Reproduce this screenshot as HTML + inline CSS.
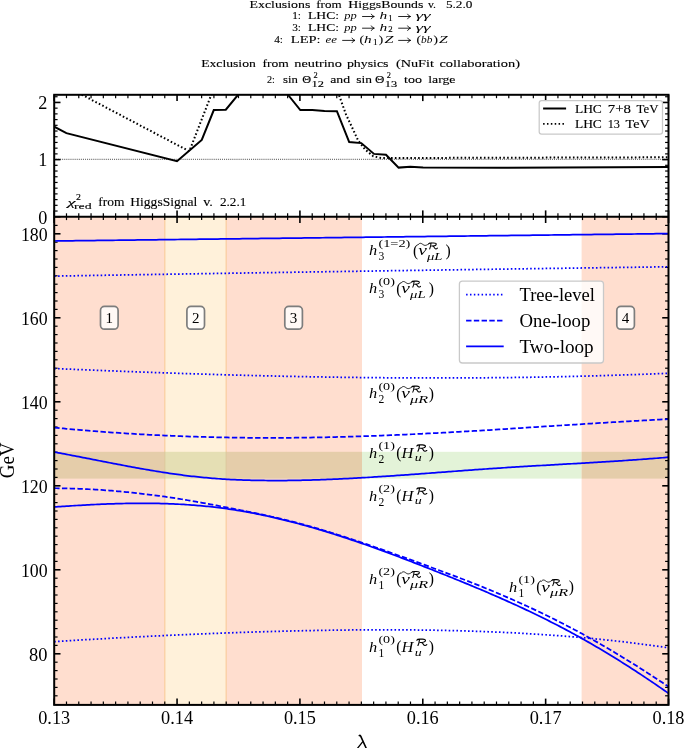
<!DOCTYPE html>
<html><head><meta charset="utf-8"><title>chart</title>
<style>
html,body{margin:0;padding:0;background:#fff;}
body{width:685px;height:748px;overflow:hidden;font-family:"Liberation Serif",serif;}
svg text{font-family:"Liberation Serif",serif;}
</style></head><body>
<svg width="685" height="748" viewBox="0 0 685 748" style="display:block;will-change:transform">
<defs>
<clipPath id="ct"><rect x="54.2" y="94.8" width="614.3" height="121.89999999999999"/></clipPath>
<clipPath id="cb"><rect x="54.2" y="216.7" width="614.3" height="488.2"/></clipPath>
<path id="calR" d="M0.3,-5.8 C0.8,-6.8 1.8,-6.9 3.0,-6.9 L5.6,-6.9 C8.0,-6.9 8.9,-5.9 8.4,-4.9 C7.8,-3.7 5.8,-3.3 3.6,-3.3 M2.9,-6.8 C2.7,-4.5 2.3,-2.0 1.4,-0.1 M4.6,-3.3 C5.8,-3.0 6.3,-2.0 6.8,-1.0 C7.3,0.0 8.6,0.3 9.8,-1.0" fill="none" stroke="#000" stroke-width="1.15" stroke-linecap="round" stroke-linejoin="round"/>
<path id="wtilde" d="M0,0.6 C1.0,-0.9 2.2,-1.3 3.4,-0.8 C4.8,-0.2 5.8,1.2 7.3,1.1 C8.9,1.0 10.2,0.0 11.2,-0.9" fill="none" stroke="#000" stroke-width="0.85" stroke-linecap="round"/>
</defs>
<rect width="685" height="748" fill="#fff"/>
<rect x="54.20" y="216.7" width="110.57" height="488.2" fill="#ffdecf"/>
<rect x="164.77" y="216.7" width="61.43" height="488.2" fill="#fff1da"/>
<rect x="226.20" y="216.7" width="135.80" height="488.2" fill="#ffdecf"/>
<rect x="581.6" y="216.7" width="86.90" height="488.2" fill="#ffdecf"/>
<rect x="164.07" y="216.7" width="1.4" height="488.2" fill="#f9cd9f" opacity="0.9"/>
<rect x="225.50" y="216.7" width="1.4" height="488.2" fill="#f9cd9f" opacity="0.9"/>
<rect x="54.20" y="451.8" width="110.57" height="26.8" fill="#e5cdaa"/>
<rect x="164.77" y="451.8" width="61.43" height="26.8" fill="#e5dfb4"/>
<rect x="226.20" y="451.8" width="135.80" height="26.8" fill="#e5cdaa"/>
<rect x="362.00" y="451.8" width="219.60" height="26.8" fill="#e3f3d8"/>
<rect x="581.60" y="451.8" width="86.90" height="26.8" fill="#e5cdaa"/>
<rect x="164.07" y="451.8" width="1.4" height="26.8" fill="#dcc79c" opacity="0.7"/>
<rect x="225.50" y="451.8" width="1.4" height="26.8" fill="#dcc79c" opacity="0.7"/>
<line x1="54.20" y1="94.80" x2="54.20" y2="101.10" stroke="#000" stroke-width="1.6"/>
<line x1="54.20" y1="216.70" x2="54.20" y2="210.40" stroke="#000" stroke-width="1.6"/>
<line x1="54.20" y1="216.70" x2="54.20" y2="223.00" stroke="#000" stroke-width="1.6"/>
<line x1="54.20" y1="704.90" x2="54.20" y2="698.60" stroke="#000" stroke-width="1.6"/>
<line x1="66.49" y1="94.80" x2="66.49" y2="98.20" stroke="#000" stroke-width="1.2"/>
<line x1="66.49" y1="216.70" x2="66.49" y2="213.30" stroke="#000" stroke-width="1.2"/>
<line x1="66.49" y1="216.70" x2="66.49" y2="220.10" stroke="#000" stroke-width="1.2"/>
<line x1="66.49" y1="704.90" x2="66.49" y2="701.50" stroke="#000" stroke-width="1.2"/>
<line x1="78.77" y1="94.80" x2="78.77" y2="98.20" stroke="#000" stroke-width="1.2"/>
<line x1="78.77" y1="216.70" x2="78.77" y2="213.30" stroke="#000" stroke-width="1.2"/>
<line x1="78.77" y1="216.70" x2="78.77" y2="220.10" stroke="#000" stroke-width="1.2"/>
<line x1="78.77" y1="704.90" x2="78.77" y2="701.50" stroke="#000" stroke-width="1.2"/>
<line x1="91.06" y1="94.80" x2="91.06" y2="98.20" stroke="#000" stroke-width="1.2"/>
<line x1="91.06" y1="216.70" x2="91.06" y2="213.30" stroke="#000" stroke-width="1.2"/>
<line x1="91.06" y1="216.70" x2="91.06" y2="220.10" stroke="#000" stroke-width="1.2"/>
<line x1="91.06" y1="704.90" x2="91.06" y2="701.50" stroke="#000" stroke-width="1.2"/>
<line x1="103.34" y1="94.80" x2="103.34" y2="98.20" stroke="#000" stroke-width="1.2"/>
<line x1="103.34" y1="216.70" x2="103.34" y2="213.30" stroke="#000" stroke-width="1.2"/>
<line x1="103.34" y1="216.70" x2="103.34" y2="220.10" stroke="#000" stroke-width="1.2"/>
<line x1="103.34" y1="704.90" x2="103.34" y2="701.50" stroke="#000" stroke-width="1.2"/>
<line x1="115.63" y1="94.80" x2="115.63" y2="98.20" stroke="#000" stroke-width="1.2"/>
<line x1="115.63" y1="216.70" x2="115.63" y2="213.30" stroke="#000" stroke-width="1.2"/>
<line x1="115.63" y1="216.70" x2="115.63" y2="220.10" stroke="#000" stroke-width="1.2"/>
<line x1="115.63" y1="704.90" x2="115.63" y2="701.50" stroke="#000" stroke-width="1.2"/>
<line x1="127.92" y1="94.80" x2="127.92" y2="98.20" stroke="#000" stroke-width="1.2"/>
<line x1="127.92" y1="216.70" x2="127.92" y2="213.30" stroke="#000" stroke-width="1.2"/>
<line x1="127.92" y1="216.70" x2="127.92" y2="220.10" stroke="#000" stroke-width="1.2"/>
<line x1="127.92" y1="704.90" x2="127.92" y2="701.50" stroke="#000" stroke-width="1.2"/>
<line x1="140.20" y1="94.80" x2="140.20" y2="98.20" stroke="#000" stroke-width="1.2"/>
<line x1="140.20" y1="216.70" x2="140.20" y2="213.30" stroke="#000" stroke-width="1.2"/>
<line x1="140.20" y1="216.70" x2="140.20" y2="220.10" stroke="#000" stroke-width="1.2"/>
<line x1="140.20" y1="704.90" x2="140.20" y2="701.50" stroke="#000" stroke-width="1.2"/>
<line x1="152.49" y1="94.80" x2="152.49" y2="98.20" stroke="#000" stroke-width="1.2"/>
<line x1="152.49" y1="216.70" x2="152.49" y2="213.30" stroke="#000" stroke-width="1.2"/>
<line x1="152.49" y1="216.70" x2="152.49" y2="220.10" stroke="#000" stroke-width="1.2"/>
<line x1="152.49" y1="704.90" x2="152.49" y2="701.50" stroke="#000" stroke-width="1.2"/>
<line x1="164.77" y1="94.80" x2="164.77" y2="98.20" stroke="#000" stroke-width="1.2"/>
<line x1="164.77" y1="216.70" x2="164.77" y2="213.30" stroke="#000" stroke-width="1.2"/>
<line x1="164.77" y1="216.70" x2="164.77" y2="220.10" stroke="#000" stroke-width="1.2"/>
<line x1="164.77" y1="704.90" x2="164.77" y2="701.50" stroke="#000" stroke-width="1.2"/>
<line x1="177.06" y1="94.80" x2="177.06" y2="101.10" stroke="#000" stroke-width="1.6"/>
<line x1="177.06" y1="216.70" x2="177.06" y2="210.40" stroke="#000" stroke-width="1.6"/>
<line x1="177.06" y1="216.70" x2="177.06" y2="223.00" stroke="#000" stroke-width="1.6"/>
<line x1="177.06" y1="704.90" x2="177.06" y2="698.60" stroke="#000" stroke-width="1.6"/>
<line x1="189.35" y1="94.80" x2="189.35" y2="98.20" stroke="#000" stroke-width="1.2"/>
<line x1="189.35" y1="216.70" x2="189.35" y2="213.30" stroke="#000" stroke-width="1.2"/>
<line x1="189.35" y1="216.70" x2="189.35" y2="220.10" stroke="#000" stroke-width="1.2"/>
<line x1="189.35" y1="704.90" x2="189.35" y2="701.50" stroke="#000" stroke-width="1.2"/>
<line x1="201.63" y1="94.80" x2="201.63" y2="98.20" stroke="#000" stroke-width="1.2"/>
<line x1="201.63" y1="216.70" x2="201.63" y2="213.30" stroke="#000" stroke-width="1.2"/>
<line x1="201.63" y1="216.70" x2="201.63" y2="220.10" stroke="#000" stroke-width="1.2"/>
<line x1="201.63" y1="704.90" x2="201.63" y2="701.50" stroke="#000" stroke-width="1.2"/>
<line x1="213.92" y1="94.80" x2="213.92" y2="98.20" stroke="#000" stroke-width="1.2"/>
<line x1="213.92" y1="216.70" x2="213.92" y2="213.30" stroke="#000" stroke-width="1.2"/>
<line x1="213.92" y1="216.70" x2="213.92" y2="220.10" stroke="#000" stroke-width="1.2"/>
<line x1="213.92" y1="704.90" x2="213.92" y2="701.50" stroke="#000" stroke-width="1.2"/>
<line x1="226.20" y1="94.80" x2="226.20" y2="98.20" stroke="#000" stroke-width="1.2"/>
<line x1="226.20" y1="216.70" x2="226.20" y2="213.30" stroke="#000" stroke-width="1.2"/>
<line x1="226.20" y1="216.70" x2="226.20" y2="220.10" stroke="#000" stroke-width="1.2"/>
<line x1="226.20" y1="704.90" x2="226.20" y2="701.50" stroke="#000" stroke-width="1.2"/>
<line x1="238.49" y1="94.80" x2="238.49" y2="98.20" stroke="#000" stroke-width="1.2"/>
<line x1="238.49" y1="216.70" x2="238.49" y2="213.30" stroke="#000" stroke-width="1.2"/>
<line x1="238.49" y1="216.70" x2="238.49" y2="220.10" stroke="#000" stroke-width="1.2"/>
<line x1="238.49" y1="704.90" x2="238.49" y2="701.50" stroke="#000" stroke-width="1.2"/>
<line x1="250.78" y1="94.80" x2="250.78" y2="98.20" stroke="#000" stroke-width="1.2"/>
<line x1="250.78" y1="216.70" x2="250.78" y2="213.30" stroke="#000" stroke-width="1.2"/>
<line x1="250.78" y1="216.70" x2="250.78" y2="220.10" stroke="#000" stroke-width="1.2"/>
<line x1="250.78" y1="704.90" x2="250.78" y2="701.50" stroke="#000" stroke-width="1.2"/>
<line x1="263.06" y1="94.80" x2="263.06" y2="98.20" stroke="#000" stroke-width="1.2"/>
<line x1="263.06" y1="216.70" x2="263.06" y2="213.30" stroke="#000" stroke-width="1.2"/>
<line x1="263.06" y1="216.70" x2="263.06" y2="220.10" stroke="#000" stroke-width="1.2"/>
<line x1="263.06" y1="704.90" x2="263.06" y2="701.50" stroke="#000" stroke-width="1.2"/>
<line x1="275.35" y1="94.80" x2="275.35" y2="98.20" stroke="#000" stroke-width="1.2"/>
<line x1="275.35" y1="216.70" x2="275.35" y2="213.30" stroke="#000" stroke-width="1.2"/>
<line x1="275.35" y1="216.70" x2="275.35" y2="220.10" stroke="#000" stroke-width="1.2"/>
<line x1="275.35" y1="704.90" x2="275.35" y2="701.50" stroke="#000" stroke-width="1.2"/>
<line x1="287.63" y1="94.80" x2="287.63" y2="98.20" stroke="#000" stroke-width="1.2"/>
<line x1="287.63" y1="216.70" x2="287.63" y2="213.30" stroke="#000" stroke-width="1.2"/>
<line x1="287.63" y1="216.70" x2="287.63" y2="220.10" stroke="#000" stroke-width="1.2"/>
<line x1="287.63" y1="704.90" x2="287.63" y2="701.50" stroke="#000" stroke-width="1.2"/>
<line x1="299.92" y1="94.80" x2="299.92" y2="101.10" stroke="#000" stroke-width="1.6"/>
<line x1="299.92" y1="216.70" x2="299.92" y2="210.40" stroke="#000" stroke-width="1.6"/>
<line x1="299.92" y1="216.70" x2="299.92" y2="223.00" stroke="#000" stroke-width="1.6"/>
<line x1="299.92" y1="704.90" x2="299.92" y2="698.60" stroke="#000" stroke-width="1.6"/>
<line x1="312.21" y1="94.80" x2="312.21" y2="98.20" stroke="#000" stroke-width="1.2"/>
<line x1="312.21" y1="216.70" x2="312.21" y2="213.30" stroke="#000" stroke-width="1.2"/>
<line x1="312.21" y1="216.70" x2="312.21" y2="220.10" stroke="#000" stroke-width="1.2"/>
<line x1="312.21" y1="704.90" x2="312.21" y2="701.50" stroke="#000" stroke-width="1.2"/>
<line x1="324.49" y1="94.80" x2="324.49" y2="98.20" stroke="#000" stroke-width="1.2"/>
<line x1="324.49" y1="216.70" x2="324.49" y2="213.30" stroke="#000" stroke-width="1.2"/>
<line x1="324.49" y1="216.70" x2="324.49" y2="220.10" stroke="#000" stroke-width="1.2"/>
<line x1="324.49" y1="704.90" x2="324.49" y2="701.50" stroke="#000" stroke-width="1.2"/>
<line x1="336.78" y1="94.80" x2="336.78" y2="98.20" stroke="#000" stroke-width="1.2"/>
<line x1="336.78" y1="216.70" x2="336.78" y2="213.30" stroke="#000" stroke-width="1.2"/>
<line x1="336.78" y1="216.70" x2="336.78" y2="220.10" stroke="#000" stroke-width="1.2"/>
<line x1="336.78" y1="704.90" x2="336.78" y2="701.50" stroke="#000" stroke-width="1.2"/>
<line x1="349.06" y1="94.80" x2="349.06" y2="98.20" stroke="#000" stroke-width="1.2"/>
<line x1="349.06" y1="216.70" x2="349.06" y2="213.30" stroke="#000" stroke-width="1.2"/>
<line x1="349.06" y1="216.70" x2="349.06" y2="220.10" stroke="#000" stroke-width="1.2"/>
<line x1="349.06" y1="704.90" x2="349.06" y2="701.50" stroke="#000" stroke-width="1.2"/>
<line x1="361.35" y1="94.80" x2="361.35" y2="98.20" stroke="#000" stroke-width="1.2"/>
<line x1="361.35" y1="216.70" x2="361.35" y2="213.30" stroke="#000" stroke-width="1.2"/>
<line x1="361.35" y1="216.70" x2="361.35" y2="220.10" stroke="#000" stroke-width="1.2"/>
<line x1="361.35" y1="704.90" x2="361.35" y2="701.50" stroke="#000" stroke-width="1.2"/>
<line x1="373.64" y1="94.80" x2="373.64" y2="98.20" stroke="#000" stroke-width="1.2"/>
<line x1="373.64" y1="216.70" x2="373.64" y2="213.30" stroke="#000" stroke-width="1.2"/>
<line x1="373.64" y1="216.70" x2="373.64" y2="220.10" stroke="#000" stroke-width="1.2"/>
<line x1="373.64" y1="704.90" x2="373.64" y2="701.50" stroke="#000" stroke-width="1.2"/>
<line x1="385.92" y1="94.80" x2="385.92" y2="98.20" stroke="#000" stroke-width="1.2"/>
<line x1="385.92" y1="216.70" x2="385.92" y2="213.30" stroke="#000" stroke-width="1.2"/>
<line x1="385.92" y1="216.70" x2="385.92" y2="220.10" stroke="#000" stroke-width="1.2"/>
<line x1="385.92" y1="704.90" x2="385.92" y2="701.50" stroke="#000" stroke-width="1.2"/>
<line x1="398.21" y1="94.80" x2="398.21" y2="98.20" stroke="#000" stroke-width="1.2"/>
<line x1="398.21" y1="216.70" x2="398.21" y2="213.30" stroke="#000" stroke-width="1.2"/>
<line x1="398.21" y1="216.70" x2="398.21" y2="220.10" stroke="#000" stroke-width="1.2"/>
<line x1="398.21" y1="704.90" x2="398.21" y2="701.50" stroke="#000" stroke-width="1.2"/>
<line x1="410.49" y1="94.80" x2="410.49" y2="98.20" stroke="#000" stroke-width="1.2"/>
<line x1="410.49" y1="216.70" x2="410.49" y2="213.30" stroke="#000" stroke-width="1.2"/>
<line x1="410.49" y1="216.70" x2="410.49" y2="220.10" stroke="#000" stroke-width="1.2"/>
<line x1="410.49" y1="704.90" x2="410.49" y2="701.50" stroke="#000" stroke-width="1.2"/>
<line x1="422.78" y1="94.80" x2="422.78" y2="101.10" stroke="#000" stroke-width="1.6"/>
<line x1="422.78" y1="216.70" x2="422.78" y2="210.40" stroke="#000" stroke-width="1.6"/>
<line x1="422.78" y1="216.70" x2="422.78" y2="223.00" stroke="#000" stroke-width="1.6"/>
<line x1="422.78" y1="704.90" x2="422.78" y2="698.60" stroke="#000" stroke-width="1.6"/>
<line x1="435.07" y1="94.80" x2="435.07" y2="98.20" stroke="#000" stroke-width="1.2"/>
<line x1="435.07" y1="216.70" x2="435.07" y2="213.30" stroke="#000" stroke-width="1.2"/>
<line x1="435.07" y1="216.70" x2="435.07" y2="220.10" stroke="#000" stroke-width="1.2"/>
<line x1="435.07" y1="704.90" x2="435.07" y2="701.50" stroke="#000" stroke-width="1.2"/>
<line x1="447.35" y1="94.80" x2="447.35" y2="98.20" stroke="#000" stroke-width="1.2"/>
<line x1="447.35" y1="216.70" x2="447.35" y2="213.30" stroke="#000" stroke-width="1.2"/>
<line x1="447.35" y1="216.70" x2="447.35" y2="220.10" stroke="#000" stroke-width="1.2"/>
<line x1="447.35" y1="704.90" x2="447.35" y2="701.50" stroke="#000" stroke-width="1.2"/>
<line x1="459.64" y1="94.80" x2="459.64" y2="98.20" stroke="#000" stroke-width="1.2"/>
<line x1="459.64" y1="216.70" x2="459.64" y2="213.30" stroke="#000" stroke-width="1.2"/>
<line x1="459.64" y1="216.70" x2="459.64" y2="220.10" stroke="#000" stroke-width="1.2"/>
<line x1="459.64" y1="704.90" x2="459.64" y2="701.50" stroke="#000" stroke-width="1.2"/>
<line x1="471.92" y1="94.80" x2="471.92" y2="98.20" stroke="#000" stroke-width="1.2"/>
<line x1="471.92" y1="216.70" x2="471.92" y2="213.30" stroke="#000" stroke-width="1.2"/>
<line x1="471.92" y1="216.70" x2="471.92" y2="220.10" stroke="#000" stroke-width="1.2"/>
<line x1="471.92" y1="704.90" x2="471.92" y2="701.50" stroke="#000" stroke-width="1.2"/>
<line x1="484.21" y1="94.80" x2="484.21" y2="98.20" stroke="#000" stroke-width="1.2"/>
<line x1="484.21" y1="216.70" x2="484.21" y2="213.30" stroke="#000" stroke-width="1.2"/>
<line x1="484.21" y1="216.70" x2="484.21" y2="220.10" stroke="#000" stroke-width="1.2"/>
<line x1="484.21" y1="704.90" x2="484.21" y2="701.50" stroke="#000" stroke-width="1.2"/>
<line x1="496.50" y1="94.80" x2="496.50" y2="98.20" stroke="#000" stroke-width="1.2"/>
<line x1="496.50" y1="216.70" x2="496.50" y2="213.30" stroke="#000" stroke-width="1.2"/>
<line x1="496.50" y1="216.70" x2="496.50" y2="220.10" stroke="#000" stroke-width="1.2"/>
<line x1="496.50" y1="704.90" x2="496.50" y2="701.50" stroke="#000" stroke-width="1.2"/>
<line x1="508.78" y1="94.80" x2="508.78" y2="98.20" stroke="#000" stroke-width="1.2"/>
<line x1="508.78" y1="216.70" x2="508.78" y2="213.30" stroke="#000" stroke-width="1.2"/>
<line x1="508.78" y1="216.70" x2="508.78" y2="220.10" stroke="#000" stroke-width="1.2"/>
<line x1="508.78" y1="704.90" x2="508.78" y2="701.50" stroke="#000" stroke-width="1.2"/>
<line x1="521.07" y1="94.80" x2="521.07" y2="98.20" stroke="#000" stroke-width="1.2"/>
<line x1="521.07" y1="216.70" x2="521.07" y2="213.30" stroke="#000" stroke-width="1.2"/>
<line x1="521.07" y1="216.70" x2="521.07" y2="220.10" stroke="#000" stroke-width="1.2"/>
<line x1="521.07" y1="704.90" x2="521.07" y2="701.50" stroke="#000" stroke-width="1.2"/>
<line x1="533.35" y1="94.80" x2="533.35" y2="98.20" stroke="#000" stroke-width="1.2"/>
<line x1="533.35" y1="216.70" x2="533.35" y2="213.30" stroke="#000" stroke-width="1.2"/>
<line x1="533.35" y1="216.70" x2="533.35" y2="220.10" stroke="#000" stroke-width="1.2"/>
<line x1="533.35" y1="704.90" x2="533.35" y2="701.50" stroke="#000" stroke-width="1.2"/>
<line x1="545.64" y1="94.80" x2="545.64" y2="101.10" stroke="#000" stroke-width="1.6"/>
<line x1="545.64" y1="216.70" x2="545.64" y2="210.40" stroke="#000" stroke-width="1.6"/>
<line x1="545.64" y1="216.70" x2="545.64" y2="223.00" stroke="#000" stroke-width="1.6"/>
<line x1="545.64" y1="704.90" x2="545.64" y2="698.60" stroke="#000" stroke-width="1.6"/>
<line x1="557.93" y1="94.80" x2="557.93" y2="98.20" stroke="#000" stroke-width="1.2"/>
<line x1="557.93" y1="216.70" x2="557.93" y2="213.30" stroke="#000" stroke-width="1.2"/>
<line x1="557.93" y1="216.70" x2="557.93" y2="220.10" stroke="#000" stroke-width="1.2"/>
<line x1="557.93" y1="704.90" x2="557.93" y2="701.50" stroke="#000" stroke-width="1.2"/>
<line x1="570.21" y1="94.80" x2="570.21" y2="98.20" stroke="#000" stroke-width="1.2"/>
<line x1="570.21" y1="216.70" x2="570.21" y2="213.30" stroke="#000" stroke-width="1.2"/>
<line x1="570.21" y1="216.70" x2="570.21" y2="220.10" stroke="#000" stroke-width="1.2"/>
<line x1="570.21" y1="704.90" x2="570.21" y2="701.50" stroke="#000" stroke-width="1.2"/>
<line x1="582.50" y1="94.80" x2="582.50" y2="98.20" stroke="#000" stroke-width="1.2"/>
<line x1="582.50" y1="216.70" x2="582.50" y2="213.30" stroke="#000" stroke-width="1.2"/>
<line x1="582.50" y1="216.70" x2="582.50" y2="220.10" stroke="#000" stroke-width="1.2"/>
<line x1="582.50" y1="704.90" x2="582.50" y2="701.50" stroke="#000" stroke-width="1.2"/>
<line x1="594.78" y1="94.80" x2="594.78" y2="98.20" stroke="#000" stroke-width="1.2"/>
<line x1="594.78" y1="216.70" x2="594.78" y2="213.30" stroke="#000" stroke-width="1.2"/>
<line x1="594.78" y1="216.70" x2="594.78" y2="220.10" stroke="#000" stroke-width="1.2"/>
<line x1="594.78" y1="704.90" x2="594.78" y2="701.50" stroke="#000" stroke-width="1.2"/>
<line x1="607.07" y1="94.80" x2="607.07" y2="98.20" stroke="#000" stroke-width="1.2"/>
<line x1="607.07" y1="216.70" x2="607.07" y2="213.30" stroke="#000" stroke-width="1.2"/>
<line x1="607.07" y1="216.70" x2="607.07" y2="220.10" stroke="#000" stroke-width="1.2"/>
<line x1="607.07" y1="704.90" x2="607.07" y2="701.50" stroke="#000" stroke-width="1.2"/>
<line x1="619.36" y1="94.80" x2="619.36" y2="98.20" stroke="#000" stroke-width="1.2"/>
<line x1="619.36" y1="216.70" x2="619.36" y2="213.30" stroke="#000" stroke-width="1.2"/>
<line x1="619.36" y1="216.70" x2="619.36" y2="220.10" stroke="#000" stroke-width="1.2"/>
<line x1="619.36" y1="704.90" x2="619.36" y2="701.50" stroke="#000" stroke-width="1.2"/>
<line x1="631.64" y1="94.80" x2="631.64" y2="98.20" stroke="#000" stroke-width="1.2"/>
<line x1="631.64" y1="216.70" x2="631.64" y2="213.30" stroke="#000" stroke-width="1.2"/>
<line x1="631.64" y1="216.70" x2="631.64" y2="220.10" stroke="#000" stroke-width="1.2"/>
<line x1="631.64" y1="704.90" x2="631.64" y2="701.50" stroke="#000" stroke-width="1.2"/>
<line x1="643.93" y1="94.80" x2="643.93" y2="98.20" stroke="#000" stroke-width="1.2"/>
<line x1="643.93" y1="216.70" x2="643.93" y2="213.30" stroke="#000" stroke-width="1.2"/>
<line x1="643.93" y1="216.70" x2="643.93" y2="220.10" stroke="#000" stroke-width="1.2"/>
<line x1="643.93" y1="704.90" x2="643.93" y2="701.50" stroke="#000" stroke-width="1.2"/>
<line x1="656.21" y1="94.80" x2="656.21" y2="98.20" stroke="#000" stroke-width="1.2"/>
<line x1="656.21" y1="216.70" x2="656.21" y2="213.30" stroke="#000" stroke-width="1.2"/>
<line x1="656.21" y1="216.70" x2="656.21" y2="220.10" stroke="#000" stroke-width="1.2"/>
<line x1="656.21" y1="704.90" x2="656.21" y2="701.50" stroke="#000" stroke-width="1.2"/>
<line x1="668.50" y1="94.80" x2="668.50" y2="101.10" stroke="#000" stroke-width="1.6"/>
<line x1="668.50" y1="216.70" x2="668.50" y2="210.40" stroke="#000" stroke-width="1.6"/>
<line x1="668.50" y1="216.70" x2="668.50" y2="223.00" stroke="#000" stroke-width="1.6"/>
<line x1="668.50" y1="704.90" x2="668.50" y2="698.60" stroke="#000" stroke-width="1.6"/>
<line x1="54.20" y1="216.75" x2="60.50" y2="216.75" stroke="#000" stroke-width="1.6"/>
<line x1="668.50" y1="216.75" x2="662.20" y2="216.75" stroke="#000" stroke-width="1.6"/>
<line x1="54.20" y1="211.03" x2="57.60" y2="211.03" stroke="#000" stroke-width="1.2"/>
<line x1="668.50" y1="211.03" x2="665.10" y2="211.03" stroke="#000" stroke-width="1.2"/>
<line x1="54.20" y1="205.32" x2="57.60" y2="205.32" stroke="#000" stroke-width="1.2"/>
<line x1="668.50" y1="205.32" x2="665.10" y2="205.32" stroke="#000" stroke-width="1.2"/>
<line x1="54.20" y1="199.60" x2="57.60" y2="199.60" stroke="#000" stroke-width="1.2"/>
<line x1="668.50" y1="199.60" x2="665.10" y2="199.60" stroke="#000" stroke-width="1.2"/>
<line x1="54.20" y1="193.89" x2="57.60" y2="193.89" stroke="#000" stroke-width="1.2"/>
<line x1="668.50" y1="193.89" x2="665.10" y2="193.89" stroke="#000" stroke-width="1.2"/>
<line x1="54.20" y1="188.18" x2="57.60" y2="188.18" stroke="#000" stroke-width="1.2"/>
<line x1="668.50" y1="188.18" x2="665.10" y2="188.18" stroke="#000" stroke-width="1.2"/>
<line x1="54.20" y1="182.46" x2="57.60" y2="182.46" stroke="#000" stroke-width="1.2"/>
<line x1="668.50" y1="182.46" x2="665.10" y2="182.46" stroke="#000" stroke-width="1.2"/>
<line x1="54.20" y1="176.75" x2="57.60" y2="176.75" stroke="#000" stroke-width="1.2"/>
<line x1="668.50" y1="176.75" x2="665.10" y2="176.75" stroke="#000" stroke-width="1.2"/>
<line x1="54.20" y1="171.03" x2="57.60" y2="171.03" stroke="#000" stroke-width="1.2"/>
<line x1="668.50" y1="171.03" x2="665.10" y2="171.03" stroke="#000" stroke-width="1.2"/>
<line x1="54.20" y1="165.31" x2="57.60" y2="165.31" stroke="#000" stroke-width="1.2"/>
<line x1="668.50" y1="165.31" x2="665.10" y2="165.31" stroke="#000" stroke-width="1.2"/>
<line x1="54.20" y1="159.60" x2="60.50" y2="159.60" stroke="#000" stroke-width="1.6"/>
<line x1="668.50" y1="159.60" x2="662.20" y2="159.60" stroke="#000" stroke-width="1.6"/>
<line x1="54.20" y1="153.88" x2="57.60" y2="153.88" stroke="#000" stroke-width="1.2"/>
<line x1="668.50" y1="153.88" x2="665.10" y2="153.88" stroke="#000" stroke-width="1.2"/>
<line x1="54.20" y1="148.17" x2="57.60" y2="148.17" stroke="#000" stroke-width="1.2"/>
<line x1="668.50" y1="148.17" x2="665.10" y2="148.17" stroke="#000" stroke-width="1.2"/>
<line x1="54.20" y1="142.45" x2="57.60" y2="142.45" stroke="#000" stroke-width="1.2"/>
<line x1="668.50" y1="142.45" x2="665.10" y2="142.45" stroke="#000" stroke-width="1.2"/>
<line x1="54.20" y1="136.74" x2="57.60" y2="136.74" stroke="#000" stroke-width="1.2"/>
<line x1="668.50" y1="136.74" x2="665.10" y2="136.74" stroke="#000" stroke-width="1.2"/>
<line x1="54.20" y1="131.03" x2="57.60" y2="131.03" stroke="#000" stroke-width="1.2"/>
<line x1="668.50" y1="131.03" x2="665.10" y2="131.03" stroke="#000" stroke-width="1.2"/>
<line x1="54.20" y1="125.31" x2="57.60" y2="125.31" stroke="#000" stroke-width="1.2"/>
<line x1="668.50" y1="125.31" x2="665.10" y2="125.31" stroke="#000" stroke-width="1.2"/>
<line x1="54.20" y1="119.59" x2="57.60" y2="119.59" stroke="#000" stroke-width="1.2"/>
<line x1="668.50" y1="119.59" x2="665.10" y2="119.59" stroke="#000" stroke-width="1.2"/>
<line x1="54.20" y1="113.88" x2="57.60" y2="113.88" stroke="#000" stroke-width="1.2"/>
<line x1="668.50" y1="113.88" x2="665.10" y2="113.88" stroke="#000" stroke-width="1.2"/>
<line x1="54.20" y1="108.16" x2="57.60" y2="108.16" stroke="#000" stroke-width="1.2"/>
<line x1="668.50" y1="108.16" x2="665.10" y2="108.16" stroke="#000" stroke-width="1.2"/>
<line x1="54.20" y1="102.45" x2="60.50" y2="102.45" stroke="#000" stroke-width="1.6"/>
<line x1="668.50" y1="102.45" x2="662.20" y2="102.45" stroke="#000" stroke-width="1.6"/>
<line x1="54.20" y1="96.73" x2="57.60" y2="96.73" stroke="#000" stroke-width="1.2"/>
<line x1="668.50" y1="96.73" x2="665.10" y2="96.73" stroke="#000" stroke-width="1.2"/>
<line x1="54.20" y1="695.80" x2="57.60" y2="695.80" stroke="#000" stroke-width="1.2"/>
<line x1="668.50" y1="695.80" x2="665.10" y2="695.80" stroke="#000" stroke-width="1.2"/>
<line x1="54.20" y1="687.40" x2="57.60" y2="687.40" stroke="#000" stroke-width="1.2"/>
<line x1="668.50" y1="687.40" x2="665.10" y2="687.40" stroke="#000" stroke-width="1.2"/>
<line x1="54.20" y1="679.00" x2="57.60" y2="679.00" stroke="#000" stroke-width="1.2"/>
<line x1="668.50" y1="679.00" x2="665.10" y2="679.00" stroke="#000" stroke-width="1.2"/>
<line x1="54.20" y1="670.60" x2="57.60" y2="670.60" stroke="#000" stroke-width="1.2"/>
<line x1="668.50" y1="670.60" x2="665.10" y2="670.60" stroke="#000" stroke-width="1.2"/>
<line x1="54.20" y1="662.20" x2="57.60" y2="662.20" stroke="#000" stroke-width="1.2"/>
<line x1="668.50" y1="662.20" x2="665.10" y2="662.20" stroke="#000" stroke-width="1.2"/>
<line x1="54.20" y1="653.80" x2="60.50" y2="653.80" stroke="#000" stroke-width="1.6"/>
<line x1="668.50" y1="653.80" x2="662.20" y2="653.80" stroke="#000" stroke-width="1.6"/>
<line x1="54.20" y1="645.40" x2="57.60" y2="645.40" stroke="#000" stroke-width="1.2"/>
<line x1="668.50" y1="645.40" x2="665.10" y2="645.40" stroke="#000" stroke-width="1.2"/>
<line x1="54.20" y1="637.00" x2="57.60" y2="637.00" stroke="#000" stroke-width="1.2"/>
<line x1="668.50" y1="637.00" x2="665.10" y2="637.00" stroke="#000" stroke-width="1.2"/>
<line x1="54.20" y1="628.60" x2="57.60" y2="628.60" stroke="#000" stroke-width="1.2"/>
<line x1="668.50" y1="628.60" x2="665.10" y2="628.60" stroke="#000" stroke-width="1.2"/>
<line x1="54.20" y1="620.20" x2="57.60" y2="620.20" stroke="#000" stroke-width="1.2"/>
<line x1="668.50" y1="620.20" x2="665.10" y2="620.20" stroke="#000" stroke-width="1.2"/>
<line x1="54.20" y1="611.80" x2="57.60" y2="611.80" stroke="#000" stroke-width="1.2"/>
<line x1="668.50" y1="611.80" x2="665.10" y2="611.80" stroke="#000" stroke-width="1.2"/>
<line x1="54.20" y1="603.40" x2="57.60" y2="603.40" stroke="#000" stroke-width="1.2"/>
<line x1="668.50" y1="603.40" x2="665.10" y2="603.40" stroke="#000" stroke-width="1.2"/>
<line x1="54.20" y1="595.00" x2="57.60" y2="595.00" stroke="#000" stroke-width="1.2"/>
<line x1="668.50" y1="595.00" x2="665.10" y2="595.00" stroke="#000" stroke-width="1.2"/>
<line x1="54.20" y1="586.60" x2="57.60" y2="586.60" stroke="#000" stroke-width="1.2"/>
<line x1="668.50" y1="586.60" x2="665.10" y2="586.60" stroke="#000" stroke-width="1.2"/>
<line x1="54.20" y1="578.20" x2="57.60" y2="578.20" stroke="#000" stroke-width="1.2"/>
<line x1="668.50" y1="578.20" x2="665.10" y2="578.20" stroke="#000" stroke-width="1.2"/>
<line x1="54.20" y1="569.80" x2="60.50" y2="569.80" stroke="#000" stroke-width="1.6"/>
<line x1="668.50" y1="569.80" x2="662.20" y2="569.80" stroke="#000" stroke-width="1.6"/>
<line x1="54.20" y1="561.40" x2="57.60" y2="561.40" stroke="#000" stroke-width="1.2"/>
<line x1="668.50" y1="561.40" x2="665.10" y2="561.40" stroke="#000" stroke-width="1.2"/>
<line x1="54.20" y1="553.00" x2="57.60" y2="553.00" stroke="#000" stroke-width="1.2"/>
<line x1="668.50" y1="553.00" x2="665.10" y2="553.00" stroke="#000" stroke-width="1.2"/>
<line x1="54.20" y1="544.60" x2="57.60" y2="544.60" stroke="#000" stroke-width="1.2"/>
<line x1="668.50" y1="544.60" x2="665.10" y2="544.60" stroke="#000" stroke-width="1.2"/>
<line x1="54.20" y1="536.20" x2="57.60" y2="536.20" stroke="#000" stroke-width="1.2"/>
<line x1="668.50" y1="536.20" x2="665.10" y2="536.20" stroke="#000" stroke-width="1.2"/>
<line x1="54.20" y1="527.80" x2="57.60" y2="527.80" stroke="#000" stroke-width="1.2"/>
<line x1="668.50" y1="527.80" x2="665.10" y2="527.80" stroke="#000" stroke-width="1.2"/>
<line x1="54.20" y1="519.40" x2="57.60" y2="519.40" stroke="#000" stroke-width="1.2"/>
<line x1="668.50" y1="519.40" x2="665.10" y2="519.40" stroke="#000" stroke-width="1.2"/>
<line x1="54.20" y1="511.00" x2="57.60" y2="511.00" stroke="#000" stroke-width="1.2"/>
<line x1="668.50" y1="511.00" x2="665.10" y2="511.00" stroke="#000" stroke-width="1.2"/>
<line x1="54.20" y1="502.60" x2="57.60" y2="502.60" stroke="#000" stroke-width="1.2"/>
<line x1="668.50" y1="502.60" x2="665.10" y2="502.60" stroke="#000" stroke-width="1.2"/>
<line x1="54.20" y1="494.20" x2="57.60" y2="494.20" stroke="#000" stroke-width="1.2"/>
<line x1="668.50" y1="494.20" x2="665.10" y2="494.20" stroke="#000" stroke-width="1.2"/>
<line x1="54.20" y1="485.80" x2="60.50" y2="485.80" stroke="#000" stroke-width="1.6"/>
<line x1="668.50" y1="485.80" x2="662.20" y2="485.80" stroke="#000" stroke-width="1.6"/>
<line x1="54.20" y1="477.40" x2="57.60" y2="477.40" stroke="#000" stroke-width="1.2"/>
<line x1="668.50" y1="477.40" x2="665.10" y2="477.40" stroke="#000" stroke-width="1.2"/>
<line x1="54.20" y1="469.00" x2="57.60" y2="469.00" stroke="#000" stroke-width="1.2"/>
<line x1="668.50" y1="469.00" x2="665.10" y2="469.00" stroke="#000" stroke-width="1.2"/>
<line x1="54.20" y1="460.60" x2="57.60" y2="460.60" stroke="#000" stroke-width="1.2"/>
<line x1="668.50" y1="460.60" x2="665.10" y2="460.60" stroke="#000" stroke-width="1.2"/>
<line x1="54.20" y1="452.20" x2="57.60" y2="452.20" stroke="#000" stroke-width="1.2"/>
<line x1="668.50" y1="452.20" x2="665.10" y2="452.20" stroke="#000" stroke-width="1.2"/>
<line x1="54.20" y1="443.80" x2="57.60" y2="443.80" stroke="#000" stroke-width="1.2"/>
<line x1="668.50" y1="443.80" x2="665.10" y2="443.80" stroke="#000" stroke-width="1.2"/>
<line x1="54.20" y1="435.40" x2="57.60" y2="435.40" stroke="#000" stroke-width="1.2"/>
<line x1="668.50" y1="435.40" x2="665.10" y2="435.40" stroke="#000" stroke-width="1.2"/>
<line x1="54.20" y1="427.00" x2="57.60" y2="427.00" stroke="#000" stroke-width="1.2"/>
<line x1="668.50" y1="427.00" x2="665.10" y2="427.00" stroke="#000" stroke-width="1.2"/>
<line x1="54.20" y1="418.60" x2="57.60" y2="418.60" stroke="#000" stroke-width="1.2"/>
<line x1="668.50" y1="418.60" x2="665.10" y2="418.60" stroke="#000" stroke-width="1.2"/>
<line x1="54.20" y1="410.20" x2="57.60" y2="410.20" stroke="#000" stroke-width="1.2"/>
<line x1="668.50" y1="410.20" x2="665.10" y2="410.20" stroke="#000" stroke-width="1.2"/>
<line x1="54.20" y1="401.80" x2="60.50" y2="401.80" stroke="#000" stroke-width="1.6"/>
<line x1="668.50" y1="401.80" x2="662.20" y2="401.80" stroke="#000" stroke-width="1.6"/>
<line x1="54.20" y1="393.40" x2="57.60" y2="393.40" stroke="#000" stroke-width="1.2"/>
<line x1="668.50" y1="393.40" x2="665.10" y2="393.40" stroke="#000" stroke-width="1.2"/>
<line x1="54.20" y1="385.00" x2="57.60" y2="385.00" stroke="#000" stroke-width="1.2"/>
<line x1="668.50" y1="385.00" x2="665.10" y2="385.00" stroke="#000" stroke-width="1.2"/>
<line x1="54.20" y1="376.60" x2="57.60" y2="376.60" stroke="#000" stroke-width="1.2"/>
<line x1="668.50" y1="376.60" x2="665.10" y2="376.60" stroke="#000" stroke-width="1.2"/>
<line x1="54.20" y1="368.20" x2="57.60" y2="368.20" stroke="#000" stroke-width="1.2"/>
<line x1="668.50" y1="368.20" x2="665.10" y2="368.20" stroke="#000" stroke-width="1.2"/>
<line x1="54.20" y1="359.80" x2="57.60" y2="359.80" stroke="#000" stroke-width="1.2"/>
<line x1="668.50" y1="359.80" x2="665.10" y2="359.80" stroke="#000" stroke-width="1.2"/>
<line x1="54.20" y1="351.40" x2="57.60" y2="351.40" stroke="#000" stroke-width="1.2"/>
<line x1="668.50" y1="351.40" x2="665.10" y2="351.40" stroke="#000" stroke-width="1.2"/>
<line x1="54.20" y1="343.00" x2="57.60" y2="343.00" stroke="#000" stroke-width="1.2"/>
<line x1="668.50" y1="343.00" x2="665.10" y2="343.00" stroke="#000" stroke-width="1.2"/>
<line x1="54.20" y1="334.60" x2="57.60" y2="334.60" stroke="#000" stroke-width="1.2"/>
<line x1="668.50" y1="334.60" x2="665.10" y2="334.60" stroke="#000" stroke-width="1.2"/>
<line x1="54.20" y1="326.20" x2="57.60" y2="326.20" stroke="#000" stroke-width="1.2"/>
<line x1="668.50" y1="326.20" x2="665.10" y2="326.20" stroke="#000" stroke-width="1.2"/>
<line x1="54.20" y1="317.80" x2="60.50" y2="317.80" stroke="#000" stroke-width="1.6"/>
<line x1="668.50" y1="317.80" x2="662.20" y2="317.80" stroke="#000" stroke-width="1.6"/>
<line x1="54.20" y1="309.40" x2="57.60" y2="309.40" stroke="#000" stroke-width="1.2"/>
<line x1="668.50" y1="309.40" x2="665.10" y2="309.40" stroke="#000" stroke-width="1.2"/>
<line x1="54.20" y1="301.00" x2="57.60" y2="301.00" stroke="#000" stroke-width="1.2"/>
<line x1="668.50" y1="301.00" x2="665.10" y2="301.00" stroke="#000" stroke-width="1.2"/>
<line x1="54.20" y1="292.60" x2="57.60" y2="292.60" stroke="#000" stroke-width="1.2"/>
<line x1="668.50" y1="292.60" x2="665.10" y2="292.60" stroke="#000" stroke-width="1.2"/>
<line x1="54.20" y1="284.20" x2="57.60" y2="284.20" stroke="#000" stroke-width="1.2"/>
<line x1="668.50" y1="284.20" x2="665.10" y2="284.20" stroke="#000" stroke-width="1.2"/>
<line x1="54.20" y1="275.80" x2="57.60" y2="275.80" stroke="#000" stroke-width="1.2"/>
<line x1="668.50" y1="275.80" x2="665.10" y2="275.80" stroke="#000" stroke-width="1.2"/>
<line x1="54.20" y1="267.40" x2="57.60" y2="267.40" stroke="#000" stroke-width="1.2"/>
<line x1="668.50" y1="267.40" x2="665.10" y2="267.40" stroke="#000" stroke-width="1.2"/>
<line x1="54.20" y1="259.00" x2="57.60" y2="259.00" stroke="#000" stroke-width="1.2"/>
<line x1="668.50" y1="259.00" x2="665.10" y2="259.00" stroke="#000" stroke-width="1.2"/>
<line x1="54.20" y1="250.60" x2="57.60" y2="250.60" stroke="#000" stroke-width="1.2"/>
<line x1="668.50" y1="250.60" x2="665.10" y2="250.60" stroke="#000" stroke-width="1.2"/>
<line x1="54.20" y1="242.20" x2="57.60" y2="242.20" stroke="#000" stroke-width="1.2"/>
<line x1="668.50" y1="242.20" x2="665.10" y2="242.20" stroke="#000" stroke-width="1.2"/>
<line x1="54.20" y1="233.80" x2="60.50" y2="233.80" stroke="#000" stroke-width="1.6"/>
<line x1="668.50" y1="233.80" x2="662.20" y2="233.80" stroke="#000" stroke-width="1.6"/>
<line x1="54.20" y1="225.40" x2="57.60" y2="225.40" stroke="#000" stroke-width="1.2"/>
<line x1="668.50" y1="225.40" x2="665.10" y2="225.40" stroke="#000" stroke-width="1.2"/>
<polyline points="54.20,276.10 57.29,276.04 60.37,275.99 63.46,275.94 66.55,275.89 69.63,275.84 72.72,275.79 75.81,275.74 78.90,275.68 81.98,275.63 85.07,275.58 88.16,275.53 91.24,275.48 94.33,275.43 97.42,275.38 100.50,275.33 103.59,275.27 106.68,275.22 109.76,275.17 112.85,275.12 115.94,275.07 119.03,275.02 122.11,274.97 125.20,274.92 128.29,274.87 131.37,274.82 134.46,274.77 137.55,274.72 140.63,274.67 143.72,274.62 146.81,274.57 149.89,274.52 152.98,274.47 156.07,274.42 159.16,274.37 162.24,274.32 165.33,274.27 168.42,274.22 171.50,274.17 174.59,274.12 177.68,274.07 180.76,274.02 183.85,273.97 186.94,273.92 190.03,273.87 193.11,273.82 196.20,273.77 199.29,273.72 202.37,273.67 205.46,273.62 208.55,273.57 211.63,273.52 214.72,273.47 217.81,273.42 220.89,273.37 223.98,273.33 227.07,273.28 230.16,273.23 233.24,273.18 236.33,273.13 239.42,273.08 242.50,273.03 245.59,272.98 248.68,272.93 251.76,272.89 254.85,272.84 257.94,272.79 261.02,272.74 264.11,272.69 267.20,272.64 270.29,272.60 273.37,272.55 276.46,272.50 279.55,272.45 282.63,272.40 285.72,272.36 288.81,272.31 291.89,272.26 294.98,272.21 298.07,272.16 301.15,272.12 304.24,272.07 307.33,272.02 310.42,271.97 313.50,271.93 316.59,271.88 319.68,271.83 322.76,271.78 325.85,271.74 328.94,271.69 332.02,271.64 335.11,271.59 338.20,271.55 341.28,271.50 344.37,271.45 347.46,271.41 350.55,271.36 353.63,271.31 356.72,271.26 359.81,271.22 362.89,271.17 365.98,271.12 369.07,271.08 372.15,271.03 375.24,270.98 378.33,270.94 381.42,270.89 384.50,270.85 387.59,270.80 390.68,270.75 393.76,270.71 396.85,270.66 399.94,270.61 403.02,270.57 406.11,270.52 409.20,270.48 412.28,270.43 415.37,270.38 418.46,270.34 421.55,270.29 424.63,270.25 427.72,270.20 430.81,270.16 433.89,270.11 436.98,270.06 440.07,270.02 443.15,269.97 446.24,269.93 449.33,269.88 452.41,269.84 455.50,269.79 458.59,269.75 461.68,269.70 464.76,269.66 467.85,269.61 470.94,269.57 474.02,269.52 477.11,269.48 480.20,269.43 483.28,269.39 486.37,269.34 489.46,269.30 492.54,269.25 495.63,269.21 498.72,269.16 501.81,269.12 504.89,269.08 507.98,269.03 511.07,268.99 514.15,268.94 517.24,268.90 520.33,268.85 523.41,268.81 526.50,268.77 529.59,268.72 532.67,268.68 535.76,268.63 538.85,268.59 541.94,268.55 545.02,268.50 548.11,268.46 551.20,268.42 554.28,268.37 557.37,268.33 560.46,268.28 563.54,268.24 566.63,268.20 569.72,268.15 572.81,268.11 575.89,268.07 578.98,268.02 582.07,267.98 585.15,267.94 588.24,267.90 591.33,267.85 594.41,267.81 597.50,267.77 600.59,267.72 603.67,267.68 606.76,267.64 609.85,267.60 612.94,267.55 616.02,267.51 619.11,267.47 622.20,267.42 625.28,267.38 628.37,267.34 631.46,267.30 634.54,267.26 637.63,267.21 640.72,267.17 643.80,267.13 646.89,267.09 649.98,267.04 653.07,267.00 656.15,266.96 659.24,266.92 662.33,266.88 665.41,266.83 668.50,266.79" fill="none" stroke="#0000ff" stroke-width="1.75" stroke-dasharray="1.6 2.27" clip-path="url(#cb)"/>
<polyline points="54.20,368.51 57.29,368.65 60.37,368.78 63.46,368.92 66.55,369.05 69.63,369.18 72.72,369.31 75.81,369.45 78.90,369.58 81.98,369.71 85.07,369.83 88.16,369.96 91.24,370.09 94.33,370.22 97.42,370.34 100.50,370.47 103.59,370.59 106.68,370.71 109.76,370.84 112.85,370.96 115.94,371.08 119.03,371.20 122.11,371.32 125.20,371.44 128.29,371.55 131.37,371.67 134.46,371.79 137.55,371.90 140.63,372.02 143.72,372.13 146.81,372.24 149.89,372.35 152.98,372.46 156.07,372.57 159.16,372.68 162.24,372.79 165.33,372.90 168.42,373.00 171.50,373.11 174.59,373.21 177.68,373.32 180.76,373.42 183.85,373.52 186.94,373.62 190.03,373.72 193.11,373.82 196.20,373.92 199.29,374.01 202.37,374.11 205.46,374.20 208.55,374.30 211.63,374.39 214.72,374.48 217.81,374.57 220.89,374.66 223.98,374.75 227.07,374.84 230.16,374.92 233.24,375.01 236.33,375.09 239.42,375.18 242.50,375.26 245.59,375.34 248.68,375.42 251.76,375.50 254.85,375.58 257.94,375.65 261.02,375.73 264.11,375.80 267.20,375.88 270.29,375.95 273.37,376.02 276.46,376.09 279.55,376.16 282.63,376.23 285.72,376.29 288.81,376.36 291.89,376.42 294.98,376.48 298.07,376.55 301.15,376.61 304.24,376.67 307.33,376.72 310.42,376.78 313.50,376.84 316.59,376.89 319.68,376.94 322.76,376.99 325.85,377.04 328.94,377.09 332.02,377.14 335.11,377.19 338.20,377.23 341.28,377.28 344.37,377.32 347.46,377.36 350.55,377.40 353.63,377.44 356.72,377.48 359.81,377.52 362.89,377.55 365.98,377.58 369.07,377.62 372.15,377.65 375.24,377.68 378.33,377.70 381.42,377.73 384.50,377.76 387.59,377.78 390.68,377.80 393.76,377.82 396.85,377.84 399.94,377.86 403.02,377.88 406.11,377.89 409.20,377.91 412.28,377.92 415.37,377.93 418.46,377.94 421.55,377.95 424.63,377.96 427.72,377.96 430.81,377.97 433.89,377.97 436.98,377.97 440.07,377.97 443.15,377.96 446.24,377.96 449.33,377.96 452.41,377.95 455.50,377.94 458.59,377.93 461.68,377.92 464.76,377.91 467.85,377.89 470.94,377.88 474.02,377.86 477.11,377.84 480.20,377.82 483.28,377.79 486.37,377.77 489.46,377.74 492.54,377.72 495.63,377.69 498.72,377.66 501.81,377.63 504.89,377.59 507.98,377.56 511.07,377.52 514.15,377.48 517.24,377.44 520.33,377.40 523.41,377.35 526.50,377.31 529.59,377.26 532.67,377.21 535.76,377.16 538.85,377.11 541.94,377.05 545.02,377.00 548.11,376.94 551.20,376.88 554.28,376.82 557.37,376.76 560.46,376.69 563.54,376.62 566.63,376.56 569.72,376.49 572.81,376.41 575.89,376.34 578.98,376.27 582.07,376.19 585.15,376.11 588.24,376.03 591.33,375.95 594.41,375.86 597.50,375.77 600.59,375.69 603.67,375.60 606.76,375.50 609.85,375.41 612.94,375.31 616.02,375.22 619.11,375.12 622.20,375.02 625.28,374.91 628.37,374.81 631.46,374.70 634.54,374.59 637.63,374.48 640.72,374.37 643.80,374.25 646.89,374.13 649.98,374.02 653.07,373.90 656.15,373.77 659.24,373.65 662.33,373.52 665.41,373.39 668.50,373.26" fill="none" stroke="#0000ff" stroke-width="1.75" stroke-dasharray="1.6 2.27" clip-path="url(#cb)"/>
<polyline points="54.20,641.60 57.29,641.41 60.37,641.22 63.46,641.03 66.55,640.84 69.63,640.65 72.72,640.46 75.81,640.28 78.90,640.09 81.98,639.91 85.07,639.73 88.16,639.55 91.24,639.37 94.33,639.20 97.42,639.02 100.50,638.85 103.59,638.68 106.68,638.50 109.76,638.33 112.85,638.17 115.94,638.00 119.03,637.83 122.11,637.67 125.20,637.51 128.29,637.35 131.37,637.19 134.46,637.03 137.55,636.87 140.63,636.71 143.72,636.56 146.81,636.41 149.89,636.25 152.98,636.10 156.07,635.96 159.16,635.81 162.24,635.66 165.33,635.52 168.42,635.37 171.50,635.23 174.59,635.09 177.68,634.95 180.76,634.82 183.85,634.68 186.94,634.55 190.03,634.42 193.11,634.28 196.20,634.15 199.29,634.03 202.37,633.90 205.46,633.78 208.55,633.65 211.63,633.53 214.72,633.41 217.81,633.29 220.89,633.17 223.98,633.06 227.07,632.95 230.16,632.83 233.24,632.72 236.33,632.62 239.42,632.51 242.50,632.40 245.59,632.30 248.68,632.20 251.76,632.10 254.85,632.00 257.94,631.91 261.02,631.81 264.11,631.72 267.20,631.63 270.29,631.54 273.37,631.45 276.46,631.37 279.55,631.29 282.63,631.20 285.72,631.13 288.81,631.05 291.89,630.97 294.98,630.90 298.07,630.83 301.15,630.76 304.24,630.70 307.33,630.63 310.42,630.57 313.50,630.51 316.59,630.45 319.68,630.40 322.76,630.35 325.85,630.30 328.94,630.25 332.02,630.20 335.11,630.16 338.20,630.12 341.28,630.08 344.37,630.04 347.46,630.01 350.55,629.98 353.63,629.95 356.72,629.93 359.81,629.90 362.89,629.88 365.98,629.86 369.07,629.85 372.15,629.84 375.24,629.83 378.33,629.82 381.42,629.82 384.50,629.82 387.59,629.82 390.68,629.82 393.76,629.83 396.85,629.84 399.94,629.86 403.02,629.87 406.11,629.89 409.20,629.92 412.28,629.95 415.37,629.98 418.46,630.01 421.55,630.05 424.63,630.09 427.72,630.13 430.81,630.18 433.89,630.23 436.98,630.28 440.07,630.34 443.15,630.40 446.24,630.46 449.33,630.53 452.41,630.60 455.50,630.68 458.59,630.76 461.68,630.84 464.76,630.93 467.85,631.02 470.94,631.12 474.02,631.22 477.11,631.32 480.20,631.43 483.28,631.54 486.37,631.66 489.46,631.78 492.54,631.90 495.63,632.03 498.72,632.16 501.81,632.30 504.89,632.44 507.98,632.59 511.07,632.74 514.15,632.90 517.24,633.06 520.33,633.22 523.41,633.40 526.50,633.57 529.59,633.75 532.67,633.94 535.76,634.13 538.85,634.32 541.94,634.52 545.02,634.73 548.11,634.94 551.20,635.15 554.28,635.37 557.37,635.60 560.46,635.83 563.54,636.07 566.63,636.31 569.72,636.56 572.81,636.82 575.89,637.08 578.98,637.34 582.07,637.61 585.15,637.89 588.24,638.17 591.33,638.46 594.41,638.76 597.50,639.06 600.59,639.37 603.67,639.68 606.76,640.00 609.85,640.33 612.94,640.66 616.02,641.00 619.11,641.35 622.20,641.70 625.28,642.06 628.37,642.42 631.46,642.80 634.54,643.18 637.63,643.56 640.72,643.96 643.80,644.36 646.89,644.77 649.98,645.18 653.07,645.60 656.15,646.03 659.24,646.47 662.33,646.91 665.41,647.37 668.50,647.82" fill="none" stroke="#0000ff" stroke-width="1.75" stroke-dasharray="1.6 2.27" clip-path="url(#cb)"/>
<polyline points="54.20,427.61 57.29,427.91 60.37,428.20 63.46,428.49 66.55,428.78 69.63,429.06 72.72,429.33 75.81,429.60 78.90,429.87 81.98,430.13 85.07,430.39 88.16,430.64 91.24,430.89 94.33,431.14 97.42,431.38 100.50,431.61 103.59,431.84 106.68,432.07 109.76,432.29 112.85,432.51 115.94,432.72 119.03,432.93 122.11,433.14 125.20,433.34 128.29,433.53 131.37,433.72 134.46,433.91 137.55,434.09 140.63,434.27 143.72,434.44 146.81,434.61 149.89,434.78 152.98,434.94 156.07,435.09 159.16,435.24 162.24,435.39 165.33,435.53 168.42,435.67 171.50,435.81 174.59,435.94 177.68,436.06 180.76,436.18 183.85,436.30 186.94,436.41 190.03,436.52 193.11,436.62 196.20,436.72 199.29,436.82 202.37,436.91 205.46,436.99 208.55,437.08 211.63,437.15 214.72,437.23 217.81,437.30 220.89,437.36 223.98,437.43 227.07,437.48 230.16,437.54 233.24,437.59 236.33,437.63 239.42,437.67 242.50,437.71 245.59,437.74 248.68,437.77 251.76,437.80 254.85,437.82 257.94,437.83 261.02,437.85 264.11,437.86 267.20,437.86 270.29,437.86 273.37,437.86 276.46,437.85 279.55,437.84 282.63,437.83 285.72,437.81 288.81,437.79 291.89,437.77 294.98,437.74 298.07,437.71 301.15,437.67 304.24,437.63 307.33,437.59 310.42,437.54 313.50,437.49 316.59,437.44 319.68,437.38 322.76,437.32 325.85,437.26 328.94,437.19 332.02,437.12 335.11,437.05 338.20,436.97 341.28,436.89 344.37,436.81 347.46,436.72 350.55,436.63 353.63,436.54 356.72,436.45 359.81,436.35 362.89,436.25 365.98,436.14 369.07,436.03 372.15,435.92 375.24,435.81 378.33,435.69 381.42,435.58 384.50,435.45 387.59,435.33 390.68,435.20 393.76,435.07 396.85,434.94 399.94,434.81 403.02,434.67 406.11,434.53 409.20,434.39 412.28,434.25 415.37,434.10 418.46,433.95 421.55,433.80 424.63,433.65 427.72,433.49 430.81,433.33 433.89,433.18 436.98,433.01 440.07,432.85 443.15,432.69 446.24,432.52 449.33,432.35 452.41,432.18 455.50,432.01 458.59,431.83 461.68,431.66 464.76,431.48 467.85,431.30 470.94,431.12 474.02,430.94 477.11,430.76 480.20,430.57 483.28,430.39 486.37,430.20 489.46,430.01 492.54,429.82 495.63,429.63 498.72,429.44 501.81,429.25 504.89,429.06 507.98,428.86 511.07,428.67 514.15,428.47 517.24,428.28 520.33,428.08 523.41,427.88 526.50,427.69 529.59,427.49 532.67,427.29 535.76,427.09 538.85,426.89 541.94,426.69 545.02,426.49 548.11,426.30 551.20,426.10 554.28,425.90 557.37,425.70 560.46,425.50 563.54,425.30 566.63,425.10 569.72,424.90 572.81,424.71 575.89,424.51 578.98,424.31 582.07,424.12 585.15,423.92 588.24,423.73 591.33,423.54 594.41,423.34 597.50,423.15 600.59,422.96 603.67,422.77 606.76,422.58 609.85,422.40 612.94,422.21 616.02,422.03 619.11,421.84 622.20,421.66 625.28,421.48 628.37,421.31 631.46,421.13 634.54,420.96 637.63,420.78 640.72,420.61 643.80,420.44 646.89,420.28 649.98,420.11 653.07,419.95 656.15,419.79 659.24,419.64 662.33,419.48 665.41,419.33 668.50,419.18" fill="none" stroke="#0000ff" stroke-width="1.75" stroke-dasharray="5.4 2.34" clip-path="url(#cb)"/>
<polyline points="54.20,488.23 56.25,488.25 58.31,488.27 60.36,488.30 62.42,488.33 64.47,488.37 66.53,488.41 68.58,488.46 70.64,488.51 72.69,488.57 74.75,488.64 76.80,488.71 78.85,488.79 80.91,488.87 82.96,488.95 85.02,489.05 87.07,489.15 89.13,489.25 91.18,489.36 93.24,489.47 95.29,489.59 97.34,489.72 99.40,489.85 101.45,489.98 103.51,490.12 105.56,490.27 107.62,490.42 109.67,490.58 111.73,490.74 113.78,490.91 115.84,491.08 117.89,491.26 119.94,491.44 122.00,491.63 124.05,491.82 126.11,492.02 128.16,492.22 130.22,492.43 132.27,492.64 134.33,492.86 136.38,493.08 138.44,493.31 140.49,493.55 142.54,493.78 144.60,494.03 146.65,494.28 148.71,494.53 150.76,494.79 152.82,495.05 154.87,495.32 156.93,495.59 158.98,495.87 161.03,496.15 163.09,496.44 165.14,496.73 167.20,497.03 169.25,497.33 171.31,497.64 173.36,497.95 175.42,498.26 177.47,498.58 179.53,498.91 181.58,499.24 183.63,499.57 185.69,499.91 187.74,500.26 189.80,500.61 191.85,500.96 193.91,501.32 195.96,501.68 198.02,502.04 200.07,502.41 202.13,502.79 204.18,503.16 206.23,503.54 208.29,503.92 210.34,504.31 212.40,504.70 214.45,505.09 216.51,505.48 218.56,505.87 220.62,506.26 222.67,506.66 224.72,507.06 226.78,507.45 228.83,507.85 230.89,508.25 232.94,508.65 235.00,509.05 237.05,509.45 239.11,509.86 241.16,510.27 243.22,510.67 245.27,511.08 247.32,511.50 249.38,511.91 251.43,512.33 253.49,512.76 255.54,513.18 257.60,513.61 259.65,514.04 261.71,514.48 263.76,514.92 265.82,515.37 267.87,515.81 269.92,516.27 271.98,516.73 274.03,517.19 276.09,517.66 278.14,518.14 280.20,518.62 282.25,519.10 284.31,519.60 286.36,520.10 288.41,520.60 290.47,521.11 292.52,521.63 294.58,522.16 296.63,522.69 298.69,523.23 300.74,523.78 302.80,524.34 304.85,524.90 306.91,525.47 308.96,526.05 311.01,526.63 313.07,527.22 315.12,527.82 317.18,528.42 319.23,529.03 321.29,529.65 323.34,530.27 325.40,530.89 327.45,531.52 329.51,532.15 331.56,532.79 333.61,533.43 335.67,534.08 337.72,534.73 339.78,535.38 341.83,536.04 343.89,536.70 345.94,537.36 348.00,538.03 350.05,538.70 352.10,539.37 354.16,540.05 356.21,540.73 358.27,541.42 360.32,542.11 362.38,542.80 364.43,543.49 366.49,544.19 368.54,544.89 370.60,545.59 372.65,546.30 374.70,547.01 376.76,547.72 378.81,548.43 380.87,549.15 382.92,549.87 384.98,550.59 387.03,551.31 389.09,552.04 391.14,552.77 393.19,553.50 395.25,554.23 397.30,554.96 399.36,555.70 401.41,556.44 403.47,557.18 405.52,557.92 407.58,558.67 409.63,559.41 411.69,560.16 413.74,560.91 415.79,561.66 417.85,562.41 419.90,563.17 421.96,563.92 424.01,564.68 426.07,565.43 428.12,566.19 430.18,566.95 432.23,567.71 434.29,568.47 436.34,569.24 438.39,570.00 440.45,570.76 442.50,571.53 444.56,572.29 446.61,573.06 448.67,573.83 450.72,574.60 452.78,575.37 454.83,576.15 456.88,576.92 458.94,577.70 460.99,578.49 463.05,579.27 465.10,580.06 467.16,580.86 469.21,581.65 471.27,582.45 473.32,583.26 475.38,584.07 477.43,584.89 479.48,585.71 481.54,586.53 483.59,587.36 485.65,588.20 487.70,589.04 489.76,589.89 491.81,590.74 493.87,591.59 495.92,592.46 497.98,593.32 500.03,594.19 502.08,595.07 504.14,595.95 506.19,596.84 508.25,597.74 510.30,598.63 512.36,599.54 514.41,600.45 516.47,601.36 518.52,602.28 520.57,603.21 522.63,604.14 524.68,605.08 526.74,606.02 528.79,606.97 530.85,607.92 532.90,608.88 534.96,609.85 537.01,610.82 539.07,611.80 541.12,612.78 543.17,613.77 545.23,614.77 547.28,615.77 549.34,616.78 551.39,617.80 553.45,618.82 555.50,619.85 557.56,620.88 559.61,621.92 561.67,622.97 563.72,624.03 565.77,625.09 567.83,626.16 569.88,627.24 571.94,628.32 573.99,629.41 576.05,630.51 578.10,631.62 580.16,632.73 582.21,633.85 584.26,634.98 586.32,636.11 588.37,637.25 590.43,638.40 592.48,639.55 594.54,640.71 596.59,641.88 598.65,643.06 600.70,644.24 602.76,645.43 604.81,646.62 606.86,647.82 608.92,649.03 610.97,650.24 613.03,651.46 615.08,652.69 617.14,653.93 619.19,655.17 621.25,656.41 623.30,657.66 625.36,658.92 627.41,660.19 629.46,661.46 631.52,662.74 633.57,664.02 635.63,665.31 637.68,666.61 639.74,667.91 641.79,669.21 643.85,670.53 645.90,671.85 647.95,673.17 650.01,674.50 652.06,675.84 654.12,677.18 656.17,678.53 658.23,679.88 660.28,681.24 662.34,682.60 664.39,683.97 666.45,685.35 668.50,686.73" fill="none" stroke="#0000ff" stroke-width="1.75" stroke-dasharray="5.4 2.34" clip-path="url(#cb)"/>
<polyline points="54.20,241.00 57.29,240.96 60.37,240.92 63.46,240.89 66.55,240.85 69.63,240.81 72.72,240.77 75.81,240.74 78.90,240.70 81.98,240.66 85.07,240.62 88.16,240.59 91.24,240.55 94.33,240.51 97.42,240.47 100.50,240.44 103.59,240.40 106.68,240.36 109.76,240.32 112.85,240.29 115.94,240.25 119.03,240.21 122.11,240.17 125.20,240.14 128.29,240.10 131.37,240.06 134.46,240.02 137.55,239.99 140.63,239.95 143.72,239.91 146.81,239.88 149.89,239.84 152.98,239.80 156.07,239.76 159.16,239.73 162.24,239.69 165.33,239.65 168.42,239.61 171.50,239.58 174.59,239.54 177.68,239.50 180.76,239.46 183.85,239.43 186.94,239.39 190.03,239.35 193.11,239.31 196.20,239.28 199.29,239.24 202.37,239.20 205.46,239.17 208.55,239.13 211.63,239.09 214.72,239.05 217.81,239.02 220.89,238.98 223.98,238.94 227.07,238.90 230.16,238.87 233.24,238.83 236.33,238.79 239.42,238.76 242.50,238.72 245.59,238.68 248.68,238.64 251.76,238.61 254.85,238.57 257.94,238.53 261.02,238.49 264.11,238.46 267.20,238.42 270.29,238.38 273.37,238.35 276.46,238.31 279.55,238.27 282.63,238.23 285.72,238.20 288.81,238.16 291.89,238.12 294.98,238.08 298.07,238.05 301.15,238.01 304.24,237.97 307.33,237.94 310.42,237.90 313.50,237.86 316.59,237.82 319.68,237.79 322.76,237.75 325.85,237.71 328.94,237.67 332.02,237.64 335.11,237.60 338.20,237.56 341.28,237.53 344.37,237.49 347.46,237.45 350.55,237.41 353.63,237.38 356.72,237.34 359.81,237.30 362.89,237.27 365.98,237.23 369.07,237.19 372.15,237.15 375.24,237.12 378.33,237.08 381.42,237.04 384.50,237.00 387.59,236.97 390.68,236.93 393.76,236.89 396.85,236.86 399.94,236.82 403.02,236.78 406.11,236.74 409.20,236.71 412.28,236.67 415.37,236.63 418.46,236.60 421.55,236.56 424.63,236.52 427.72,236.48 430.81,236.45 433.89,236.41 436.98,236.37 440.07,236.34 443.15,236.30 446.24,236.26 449.33,236.22 452.41,236.19 455.50,236.15 458.59,236.11 461.68,236.08 464.76,236.04 467.85,236.00 470.94,235.96 474.02,235.93 477.11,235.89 480.20,235.85 483.28,235.82 486.37,235.78 489.46,235.74 492.54,235.70 495.63,235.67 498.72,235.63 501.81,235.59 504.89,235.56 507.98,235.52 511.07,235.48 514.15,235.45 517.24,235.41 520.33,235.37 523.41,235.33 526.50,235.30 529.59,235.26 532.67,235.22 535.76,235.19 538.85,235.15 541.94,235.11 545.02,235.07 548.11,235.04 551.20,235.00 554.28,234.96 557.37,234.93 560.46,234.89 563.54,234.85 566.63,234.82 569.72,234.78 572.81,234.74 575.89,234.70 578.98,234.67 582.07,234.63 585.15,234.59 588.24,234.56 591.33,234.52 594.41,234.48 597.50,234.44 600.59,234.41 603.67,234.37 606.76,234.33 609.85,234.30 612.94,234.26 616.02,234.22 619.11,234.19 622.20,234.15 625.28,234.11 628.37,234.07 631.46,234.04 634.54,234.00 637.63,233.96 640.72,233.93 643.80,233.89 646.89,233.85 649.98,233.82 653.07,233.78 656.15,233.74 659.24,233.70 662.33,233.67 665.41,233.63 668.50,233.59" fill="none" stroke="#0000ff" stroke-width="1.75" clip-path="url(#cb)"/>
<polyline points="54.20,452.07 56.25,452.45 58.31,452.83 60.36,453.21 62.42,453.59 64.47,453.97 66.53,454.36 68.58,454.75 70.64,455.14 72.69,455.54 74.75,455.93 76.80,456.33 78.85,456.72 80.91,457.12 82.96,457.52 85.02,457.92 87.07,458.32 89.13,458.73 91.18,459.13 93.24,459.53 95.29,459.93 97.34,460.34 99.40,460.74 101.45,461.14 103.51,461.54 105.56,461.95 107.62,462.35 109.67,462.75 111.73,463.14 113.78,463.54 115.84,463.94 117.89,464.33 119.94,464.72 122.00,465.12 124.05,465.50 126.11,465.89 128.16,466.28 130.22,466.66 132.27,467.04 134.33,467.41 136.38,467.79 138.44,468.16 140.49,468.53 142.54,468.89 144.60,469.25 146.65,469.61 148.71,469.96 150.76,470.31 152.82,470.66 154.87,471.00 156.93,471.34 158.98,471.67 161.03,472.00 163.09,472.32 165.14,472.64 167.20,472.95 169.25,473.26 171.31,473.56 173.36,473.86 175.42,474.15 177.47,474.44 179.53,474.72 181.58,474.99 183.63,475.26 185.69,475.52 187.74,475.77 189.80,476.02 191.85,476.26 193.91,476.49 195.96,476.72 198.02,476.94 200.07,477.15 202.13,477.35 204.18,477.55 206.23,477.74 208.29,477.93 210.34,478.11 212.40,478.28 214.45,478.44 216.51,478.60 218.56,478.75 220.62,478.89 222.67,479.03 224.72,479.16 226.78,479.28 228.83,479.40 230.89,479.51 232.94,479.61 235.00,479.70 237.05,479.79 239.11,479.88 241.16,479.96 243.22,480.03 245.27,480.10 247.32,480.16 249.38,480.22 251.43,480.27 253.49,480.31 255.54,480.36 257.60,480.39 259.65,480.43 261.71,480.46 263.76,480.48 265.82,480.50 267.87,480.52 269.92,480.53 271.98,480.54 274.03,480.55 276.09,480.55 278.14,480.54 280.20,480.54 282.25,480.53 284.31,480.51 286.36,480.50 288.41,480.47 290.47,480.45 292.52,480.42 294.58,480.39 296.63,480.36 298.69,480.32 300.74,480.28 302.80,480.23 304.85,480.18 306.91,480.13 308.96,480.08 311.01,480.02 313.07,479.96 315.12,479.90 317.18,479.83 319.23,479.76 321.29,479.69 323.34,479.62 325.40,479.54 327.45,479.46 329.51,479.38 331.56,479.29 333.61,479.21 335.67,479.12 337.72,479.02 339.78,478.93 341.83,478.83 343.89,478.73 345.94,478.63 348.00,478.53 350.05,478.42 352.10,478.31 354.16,478.20 356.21,478.09 358.27,477.97 360.32,477.86 362.38,477.74 364.43,477.62 366.49,477.50 368.54,477.37 370.60,477.25 372.65,477.12 374.70,476.99 376.76,476.86 378.81,476.73 380.87,476.60 382.92,476.47 384.98,476.33 387.03,476.19 389.09,476.06 391.14,475.92 393.19,475.78 395.25,475.63 397.30,475.49 399.36,475.35 401.41,475.20 403.47,475.06 405.52,474.91 407.58,474.76 409.63,474.61 411.69,474.47 413.74,474.32 415.79,474.16 417.85,474.01 419.90,473.86 421.96,473.71 424.01,473.56 426.07,473.41 428.12,473.25 430.18,473.10 432.23,472.94 434.29,472.79 436.34,472.64 438.39,472.48 440.45,472.33 442.50,472.17 444.56,472.02 446.61,471.86 448.67,471.71 450.72,471.55 452.78,471.40 454.83,471.25 456.88,471.09 458.94,470.94 460.99,470.79 463.05,470.63 465.10,470.48 467.16,470.33 469.21,470.18 471.27,470.03 473.32,469.88 475.38,469.73 477.43,469.58 479.48,469.44 481.54,469.29 483.59,469.14 485.65,469.00 487.70,468.86 489.76,468.71 491.81,468.57 493.87,468.43 495.92,468.29 497.98,468.15 500.03,468.02 502.08,467.88 504.14,467.75 506.19,467.61 508.25,467.48 510.30,467.35 512.36,467.22 514.41,467.09 516.47,466.97 518.52,466.84 520.57,466.71 522.63,466.59 524.68,466.47 526.74,466.34 528.79,466.22 530.85,466.10 532.90,465.98 534.96,465.86 537.01,465.74 539.07,465.62 541.12,465.50 543.17,465.38 545.23,465.26 547.28,465.15 549.34,465.03 551.39,464.91 553.45,464.79 555.50,464.68 557.56,464.56 559.61,464.44 561.67,464.33 563.72,464.21 565.77,464.10 567.83,463.98 569.88,463.86 571.94,463.75 573.99,463.63 576.05,463.51 578.10,463.39 580.16,463.27 582.21,463.16 584.26,463.04 586.32,462.92 588.37,462.80 590.43,462.68 592.48,462.56 594.54,462.43 596.59,462.31 598.65,462.19 600.70,462.07 602.76,461.94 604.81,461.81 606.86,461.69 608.92,461.56 610.97,461.43 613.03,461.30 615.08,461.17 617.14,461.04 619.19,460.91 621.25,460.77 623.30,460.64 625.36,460.50 627.41,460.36 629.46,460.22 631.52,460.08 633.57,459.94 635.63,459.79 637.68,459.65 639.74,459.50 641.79,459.35 643.85,459.20 645.90,459.05 647.95,458.89 650.01,458.73 652.06,458.58 654.12,458.42 656.17,458.25 658.23,458.09 660.28,457.92 662.34,457.75 664.39,457.58 666.45,457.41 668.50,457.24" fill="none" stroke="#0000ff" stroke-width="1.75" clip-path="url(#cb)"/>
<polyline points="54.20,506.98 56.25,506.84 58.31,506.69 60.36,506.55 62.42,506.41 64.47,506.28 66.53,506.14 68.58,506.01 70.64,505.88 72.69,505.75 74.75,505.62 76.80,505.50 78.85,505.38 80.91,505.26 82.96,505.14 85.02,505.03 87.07,504.92 89.13,504.81 91.18,504.71 93.24,504.60 95.29,504.50 97.34,504.41 99.40,504.32 101.45,504.23 103.51,504.14 105.56,504.06 107.62,503.98 109.67,503.91 111.73,503.84 113.78,503.77 115.84,503.71 117.89,503.65 119.94,503.60 122.00,503.55 124.05,503.50 126.11,503.46 128.16,503.43 130.22,503.39 132.27,503.37 134.33,503.35 136.38,503.33 138.44,503.32 140.49,503.31 142.54,503.31 144.60,503.31 146.65,503.32 148.71,503.33 150.76,503.35 152.82,503.38 154.87,503.41 156.93,503.45 158.98,503.49 161.03,503.54 163.09,503.59 165.14,503.65 167.20,503.72 169.25,503.79 171.31,503.87 173.36,503.96 175.42,504.05 177.47,504.15 179.53,504.25 181.58,504.37 183.63,504.49 185.69,504.61 187.74,504.75 189.80,504.89 191.85,505.04 193.91,505.19 195.96,505.36 198.02,505.53 200.07,505.70 202.13,505.89 204.18,506.08 206.23,506.28 208.29,506.49 210.34,506.71 212.40,506.94 214.45,507.17 216.51,507.41 218.56,507.66 220.62,507.92 222.67,508.19 224.72,508.47 226.78,508.75 228.83,509.04 230.89,509.35 232.94,509.66 235.00,509.98 237.05,510.31 239.11,510.64 241.16,510.99 243.22,511.34 245.27,511.70 247.32,512.07 249.38,512.45 251.43,512.83 253.49,513.23 255.54,513.63 257.60,514.04 259.65,514.45 261.71,514.88 263.76,515.31 265.82,515.75 267.87,516.20 269.92,516.65 271.98,517.11 274.03,517.58 276.09,518.06 278.14,518.54 280.20,519.03 282.25,519.53 284.31,520.03 286.36,520.54 288.41,521.06 290.47,521.58 292.52,522.11 294.58,522.65 296.63,523.20 298.69,523.75 300.74,524.30 302.80,524.86 304.85,525.43 306.91,526.01 308.96,526.59 311.01,527.18 313.07,527.77 315.12,528.37 317.18,528.97 319.23,529.58 321.29,530.20 323.34,530.82 325.40,531.44 327.45,532.08 329.51,532.71 331.56,533.36 333.61,534.00 335.67,534.66 337.72,535.31 339.78,535.98 341.83,536.64 343.89,537.32 345.94,537.99 348.00,538.68 350.05,539.36 352.10,540.05 354.16,540.75 356.21,541.45 358.27,542.15 360.32,542.86 362.38,543.58 364.43,544.29 366.49,545.01 368.54,545.74 370.60,546.47 372.65,547.20 374.70,547.94 376.76,548.68 378.81,549.42 380.87,550.17 382.92,550.92 384.98,551.67 387.03,552.43 389.09,553.19 391.14,553.96 393.19,554.72 395.25,555.49 397.30,556.27 399.36,557.04 401.41,557.82 403.47,558.61 405.52,559.39 407.58,560.18 409.63,560.97 411.69,561.76 413.74,562.56 415.79,563.35 417.85,564.15 419.90,564.96 421.96,565.76 424.01,566.57 426.07,567.37 428.12,568.18 430.18,569.00 432.23,569.81 434.29,570.63 436.34,571.44 438.39,572.26 440.45,573.08 442.50,573.90 444.56,574.73 446.61,575.55 448.67,576.38 450.72,577.21 452.78,578.04 454.83,578.87 456.88,579.71 458.94,580.54 460.99,581.38 463.05,582.23 465.10,583.07 467.16,583.92 469.21,584.77 471.27,585.62 473.32,586.48 475.38,587.34 477.43,588.20 479.48,589.06 481.54,589.93 483.59,590.81 485.65,591.68 487.70,592.56 489.76,593.44 491.81,594.33 493.87,595.22 495.92,596.12 497.98,597.02 500.03,597.92 502.08,598.83 504.14,599.74 506.19,600.66 508.25,601.58 510.30,602.50 512.36,603.43 514.41,604.37 516.47,605.31 518.52,606.26 520.57,607.21 522.63,608.16 524.68,609.12 526.74,610.09 528.79,611.06 530.85,612.04 532.90,613.03 534.96,614.02 537.01,615.01 539.07,616.02 541.12,617.02 543.17,618.04 545.23,619.06 547.28,620.09 549.34,621.12 551.39,622.16 553.45,623.21 555.50,624.26 557.56,625.33 559.61,626.39 561.67,627.47 563.72,628.55 565.77,629.64 567.83,630.74 569.88,631.84 571.94,632.96 573.99,634.08 576.05,635.21 578.10,636.34 580.16,637.48 582.21,638.63 584.26,639.79 586.32,640.96 588.37,642.13 590.43,643.31 592.48,644.50 594.54,645.69 596.59,646.90 598.65,648.11 600.70,649.32 602.76,650.55 604.81,651.78 606.86,653.02 608.92,654.26 610.97,655.51 613.03,656.77 615.08,658.04 617.14,659.31 619.19,660.59 621.25,661.88 623.30,663.17 625.36,664.48 627.41,665.78 629.46,667.10 631.52,668.42 633.57,669.75 635.63,671.08 637.68,672.42 639.74,673.77 641.79,675.13 643.85,676.49 645.90,677.86 647.95,679.23 650.01,680.61 652.06,682.00 654.12,683.40 656.17,684.80 658.23,686.20 660.28,687.62 662.34,689.04 664.39,690.46 666.45,691.90 668.50,693.33" fill="none" stroke="#0000ff" stroke-width="1.75" clip-path="url(#cb)"/>
<line x1="54.2" x2="668.5" y1="159.3" y2="159.3" stroke="#000" stroke-width="0.8" stroke-dasharray="0.85 1.08"/>
<polyline points="54.20,126.60 66.40,133.10 177.00,161.20 201.75,139.90 213.80,110.10 225.80,109.70 250.00,80.30 276.20,80.00 288.20,95.00 300.30,110.10 312.30,110.10 324.50,111.00 336.90,111.20 349.20,142.00 361.30,143.10 374.00,153.90 386.00,154.80 398.60,167.60 410.30,166.80 423.10,167.50 500.00,167.80 668.50,166.90" fill="none" stroke="#000" stroke-width="2" stroke-linejoin="miter" clip-path="url(#ct)"/>
<polyline points="64.60,85.60 82.40,95.00 189.30,151.30 211.20,95.00 215.10,85.00" fill="none" stroke="#000" stroke-width="2" stroke-linejoin="round" stroke-dasharray="1.6 2.27" clip-path="url(#ct)"/>
<polyline points="336.50,88.00 339.00,95.00 346.00,114.50 353.00,129.40 358.30,140.80 365.30,149.60 373.20,156.20 381.00,158.00 400.00,158.00 668.50,157.30" fill="none" stroke="#000" stroke-width="2" stroke-linejoin="round" stroke-dasharray="1.6 2.27" clip-path="url(#ct)"/>
<rect x="54.2" y="94.8" width="614.3" height="610.1" fill="none" stroke="#000" stroke-width="2"/>
<line x1="54.2" x2="668.5" y1="216.7" y2="216.7" stroke="#000" stroke-width="2"/>
<text x="54.20" y="723.60" font-family="Liberation Serif, serif" font-size="18.4" text-anchor="middle" textLength="32.00" lengthAdjust="spacingAndGlyphs">0.13</text>
<text x="177.06" y="723.60" font-family="Liberation Serif, serif" font-size="18.4" text-anchor="middle" textLength="32.00" lengthAdjust="spacingAndGlyphs">0.14</text>
<text x="299.92" y="723.60" font-family="Liberation Serif, serif" font-size="18.4" text-anchor="middle" textLength="32.00" lengthAdjust="spacingAndGlyphs">0.15</text>
<text x="422.78" y="723.60" font-family="Liberation Serif, serif" font-size="18.4" text-anchor="middle" textLength="32.00" lengthAdjust="spacingAndGlyphs">0.16</text>
<text x="545.64" y="723.60" font-family="Liberation Serif, serif" font-size="18.4" text-anchor="middle" textLength="32.00" lengthAdjust="spacingAndGlyphs">0.17</text>
<text x="668.50" y="723.60" font-family="Liberation Serif, serif" font-size="18.4" text-anchor="middle" textLength="32.00" lengthAdjust="spacingAndGlyphs">0.18</text>
<text x="20.90" y="240.80" font-family="Liberation Serif, serif" font-size="18.4" textLength="26.70" lengthAdjust="spacingAndGlyphs">180</text>
<text x="20.90" y="324.80" font-family="Liberation Serif, serif" font-size="18.4" textLength="26.70" lengthAdjust="spacingAndGlyphs">160</text>
<text x="20.90" y="408.80" font-family="Liberation Serif, serif" font-size="18.4" textLength="26.70" lengthAdjust="spacingAndGlyphs">140</text>
<text x="20.90" y="492.80" font-family="Liberation Serif, serif" font-size="18.4" textLength="26.70" lengthAdjust="spacingAndGlyphs">120</text>
<text x="20.90" y="576.80" font-family="Liberation Serif, serif" font-size="18.4" textLength="26.70" lengthAdjust="spacingAndGlyphs">100</text>
<text x="29.00" y="660.80" font-family="Liberation Serif, serif" font-size="18.4" textLength="18.40" lengthAdjust="spacingAndGlyphs">80</text>
<text x="38.30" y="223.95" font-family="Liberation Serif, serif" font-size="18.4" textLength="9.10" lengthAdjust="spacingAndGlyphs">0</text>
<text x="38.30" y="166.20" font-family="Liberation Serif, serif" font-size="18.4" textLength="9.10" lengthAdjust="spacingAndGlyphs">1</text>
<text x="38.30" y="109.05" font-family="Liberation Serif, serif" font-size="18.4" textLength="9.10" lengthAdjust="spacingAndGlyphs">2</text>
<path d="M359.3,735.6 C359.9,735.2 360.5,735.4 360.8,736.4 L367.0,750" fill="none" stroke="#000" stroke-width="1.55" stroke-linecap="round"/>
<path d="M362.6,741.9 L356.7,749.3" fill="none" stroke="#000" stroke-width="1.3" stroke-linecap="round"/>
<text transform="translate(13.5,478.3) rotate(-90)" font-family="Liberation Serif, serif" font-size="20.5" textLength="35.8" lengthAdjust="spacingAndGlyphs">GeV</text>
<text x="249.60" y="7.50" font-family="Liberation Serif, serif" font-size="10.6" stroke="#000" stroke-width="0.12" textLength="60.70" lengthAdjust="spacingAndGlyphs">Exclusions</text>
<text x="316.20" y="7.50" font-family="Liberation Serif, serif" font-size="10.6" stroke="#000" stroke-width="0.12" textLength="25.40" lengthAdjust="spacingAndGlyphs">from</text>
<text x="348.20" y="7.50" font-family="Liberation Serif, serif" font-size="10.6" stroke="#000" stroke-width="0.12" textLength="75.20" lengthAdjust="spacingAndGlyphs">HiggsBounds</text>
<text x="427.90" y="7.50" font-family="Liberation Serif, serif" font-size="10.6" stroke="#000" stroke-width="0.12" textLength="8.10" lengthAdjust="spacingAndGlyphs">v.</text>
<text x="445.90" y="7.50" font-family="Liberation Serif, serif" font-size="10.6" stroke="#000" stroke-width="0.12" textLength="26.50" lengthAdjust="spacingAndGlyphs">5.2.0</text>
<text x="292.20" y="19.00" font-family="Liberation Serif, serif" font-size="10.6" stroke="#000" stroke-width="0.12" textLength="8.80" lengthAdjust="spacingAndGlyphs">1:</text>
<text x="308.00" y="19.00" font-family="Liberation Serif, serif" font-size="10.6" stroke="#000" stroke-width="0.12" textLength="31.00" lengthAdjust="spacingAndGlyphs">LHC:</text>
<text x="344.20" y="19.00" font-family="Liberation Serif, serif" font-size="10.6" font-style="italic" textLength="12.50" lengthAdjust="spacingAndGlyphs">pp</text>
<path d="M362.50,16.50 H373.90 M371.30,14.20 Q372.30,16.10 374.30,16.50 Q372.30,16.90 371.30,18.80" fill="none" stroke="#000" stroke-width="0.85" stroke-linecap="round"/>
<text x="379.50" y="19.00" font-family="Liberation Serif, serif" font-size="10.6" font-style="italic" textLength="7.70" lengthAdjust="spacingAndGlyphs">h</text>
<text x="388.20" y="20.70" font-family="Liberation Serif, serif" font-size="7.6" stroke="#000" stroke-width="0.12" textLength="4.40" lengthAdjust="spacingAndGlyphs">1</text>
<path d="M398.60,16.50 H410.20 M407.60,14.20 Q408.60,16.10 410.60,16.50 Q408.60,16.90 407.60,18.80" fill="none" stroke="#000" stroke-width="0.85" stroke-linecap="round"/>
<text x="415.50" y="19.00" font-family="Liberation Serif, serif" font-size="9.6" font-style="italic" textLength="15.20" lengthAdjust="spacingAndGlyphs">γγ</text>
<text x="292.20" y="30.70" font-family="Liberation Serif, serif" font-size="10.6" stroke="#000" stroke-width="0.12" textLength="8.80" lengthAdjust="spacingAndGlyphs">3:</text>
<text x="308.00" y="30.70" font-family="Liberation Serif, serif" font-size="10.6" stroke="#000" stroke-width="0.12" textLength="31.00" lengthAdjust="spacingAndGlyphs">LHC:</text>
<text x="344.20" y="30.70" font-family="Liberation Serif, serif" font-size="10.6" font-style="italic" textLength="12.50" lengthAdjust="spacingAndGlyphs">pp</text>
<path d="M362.50,28.20 H373.90 M371.30,25.90 Q372.30,27.80 374.30,28.20 Q372.30,28.60 371.30,30.50" fill="none" stroke="#000" stroke-width="0.85" stroke-linecap="round"/>
<text x="379.50" y="30.70" font-family="Liberation Serif, serif" font-size="10.6" font-style="italic" textLength="7.70" lengthAdjust="spacingAndGlyphs">h</text>
<text x="388.20" y="32.40" font-family="Liberation Serif, serif" font-size="7.6" stroke="#000" stroke-width="0.12" textLength="4.40" lengthAdjust="spacingAndGlyphs">2</text>
<path d="M398.60,28.20 H410.20 M407.60,25.90 Q408.60,27.80 410.60,28.20 Q408.60,28.60 407.60,30.50" fill="none" stroke="#000" stroke-width="0.85" stroke-linecap="round"/>
<text x="415.50" y="30.70" font-family="Liberation Serif, serif" font-size="9.6" font-style="italic" textLength="15.20" lengthAdjust="spacingAndGlyphs">γγ</text>
<text x="274.20" y="42.90" font-family="Liberation Serif, serif" font-size="10.6" stroke="#000" stroke-width="0.12" textLength="8.80" lengthAdjust="spacingAndGlyphs">4:</text>
<text x="290.80" y="42.90" font-family="Liberation Serif, serif" font-size="10.6" stroke="#000" stroke-width="0.12" textLength="29.80" lengthAdjust="spacingAndGlyphs">LEP:</text>
<text x="325.50" y="42.90" font-family="Liberation Serif, serif" font-size="10.6" font-style="italic" textLength="11.40" lengthAdjust="spacingAndGlyphs">ee</text>
<path d="M342.60,40.40 H354.60 M352.00,38.10 Q353.00,40.00 355.00,40.40 Q353.00,40.80 352.00,42.70" fill="none" stroke="#000" stroke-width="0.85" stroke-linecap="round"/>
<text x="359.40" y="42.90" font-family="Liberation Serif, serif" font-size="10.6" stroke="#000" stroke-width="0.12" textLength="4.40" lengthAdjust="spacingAndGlyphs">(</text>
<text x="364.00" y="42.90" font-family="Liberation Serif, serif" font-size="10.6" font-style="italic" textLength="7.60" lengthAdjust="spacingAndGlyphs">h</text>
<text x="372.90" y="44.60" font-family="Liberation Serif, serif" font-size="7.6" stroke="#000" stroke-width="0.12" textLength="4.60" lengthAdjust="spacingAndGlyphs">1</text>
<text x="378.80" y="42.90" font-family="Liberation Serif, serif" font-size="10.6" stroke="#000" stroke-width="0.12" textLength="4.40" lengthAdjust="spacingAndGlyphs">)</text>
<text x="384.40" y="42.90" font-family="Liberation Serif, serif" font-size="10.6" font-style="italic" textLength="9.00" lengthAdjust="spacingAndGlyphs">Z</text>
<path d="M398.60,40.40 H410.30 M407.70,38.10 Q408.70,40.00 410.70,40.40 Q408.70,40.80 407.70,42.70" fill="none" stroke="#000" stroke-width="0.85" stroke-linecap="round"/>
<text x="416.40" y="42.90" font-family="Liberation Serif, serif" font-size="10.6" stroke="#000" stroke-width="0.12" textLength="4.40" lengthAdjust="spacingAndGlyphs">(</text>
<text x="421.00" y="42.90" font-family="Liberation Serif, serif" font-size="10.6" font-style="italic" textLength="11.40" lengthAdjust="spacingAndGlyphs">bb</text>
<text x="433.40" y="42.90" font-family="Liberation Serif, serif" font-size="10.6" stroke="#000" stroke-width="0.12" textLength="4.40" lengthAdjust="spacingAndGlyphs">)</text>
<text x="439.00" y="42.90" font-family="Liberation Serif, serif" font-size="10.6" font-style="italic" textLength="8.70" lengthAdjust="spacingAndGlyphs">Z</text>
<text x="201.20" y="66.60" font-family="Liberation Serif, serif" font-size="10.6" stroke="#000" stroke-width="0.12" textLength="54.60" lengthAdjust="spacingAndGlyphs">Exclusion</text>
<text x="262.50" y="66.60" font-family="Liberation Serif, serif" font-size="10.6" stroke="#000" stroke-width="0.12" textLength="26.30" lengthAdjust="spacingAndGlyphs">from</text>
<text x="294.30" y="66.60" font-family="Liberation Serif, serif" font-size="10.6" stroke="#000" stroke-width="0.12" textLength="47.60" lengthAdjust="spacingAndGlyphs">neutrino</text>
<text x="346.90" y="66.60" font-family="Liberation Serif, serif" font-size="10.6" stroke="#000" stroke-width="0.12" textLength="41.60" lengthAdjust="spacingAndGlyphs">physics</text>
<text x="395.90" y="66.60" font-family="Liberation Serif, serif" font-size="10.6" stroke="#000" stroke-width="0.12" textLength="38.00" lengthAdjust="spacingAndGlyphs">(NuFit</text>
<text x="439.40" y="66.60" font-family="Liberation Serif, serif" font-size="10.6" stroke="#000" stroke-width="0.12" textLength="80.60" lengthAdjust="spacingAndGlyphs">collaboration)</text>
<text x="267.00" y="83.00" font-family="Liberation Serif, serif" font-size="10.6" stroke="#000" stroke-width="0.12" textLength="7.90" lengthAdjust="spacingAndGlyphs">2:</text>
<text x="283.10" y="83.00" font-family="Liberation Serif, serif" font-size="10.6" stroke="#000" stroke-width="0.12" textLength="14.90" lengthAdjust="spacingAndGlyphs">sin</text>
<text x="302.20" y="83.00" font-family="Liberation Serif, serif" font-size="10.6" stroke="#000" stroke-width="0.12" textLength="8.90" lengthAdjust="spacingAndGlyphs">Θ</text>
<text x="313.60" y="77.80" font-family="Liberation Serif, serif" font-size="7.4" stroke="#000" stroke-width="0.12" textLength="4.20" lengthAdjust="spacingAndGlyphs">2</text>
<text x="311.60" y="86.70" font-family="Liberation Serif, serif" font-size="7.4" stroke="#000" stroke-width="0.12" textLength="12.40" lengthAdjust="spacingAndGlyphs">12</text>
<text x="330.20" y="83.00" font-family="Liberation Serif, serif" font-size="10.6" stroke="#000" stroke-width="0.12" textLength="19.90" lengthAdjust="spacingAndGlyphs">and</text>
<text x="356.20" y="83.00" font-family="Liberation Serif, serif" font-size="10.6" stroke="#000" stroke-width="0.12" textLength="15.70" lengthAdjust="spacingAndGlyphs">sin</text>
<text x="374.90" y="83.00" font-family="Liberation Serif, serif" font-size="10.6" stroke="#000" stroke-width="0.12" textLength="9.40" lengthAdjust="spacingAndGlyphs">Θ</text>
<text x="386.80" y="77.80" font-family="Liberation Serif, serif" font-size="7.4" stroke="#000" stroke-width="0.12" textLength="4.20" lengthAdjust="spacingAndGlyphs">2</text>
<text x="384.80" y="86.70" font-family="Liberation Serif, serif" font-size="7.4" stroke="#000" stroke-width="0.12" textLength="12.40" lengthAdjust="spacingAndGlyphs">13</text>
<text x="404.10" y="83.00" font-family="Liberation Serif, serif" font-size="10.6" stroke="#000" stroke-width="0.12" textLength="17.90" lengthAdjust="spacingAndGlyphs">too</text>
<text x="428.20" y="83.00" font-family="Liberation Serif, serif" font-size="10.6" stroke="#000" stroke-width="0.12" textLength="27.30" lengthAdjust="spacingAndGlyphs">large</text>
<rect x="539.2" y="100.5" width="123.3" height="33.7" rx="2.4" fill="#fff" fill-opacity="0.8" stroke="#c9c9c9" stroke-width="1.25"/>
<line x1="543.1" x2="566.1" y1="108.5" y2="108.5" stroke="#000" stroke-width="2"/>
<line x1="543.1" x2="566.1" y1="123.9" y2="123.9" stroke="#000" stroke-width="1.75" stroke-dasharray="1.5 2.37"/>
<text x="574.90" y="112.60" font-family="Liberation Serif, serif" font-size="11.9" stroke="#000" stroke-width="0.12" textLength="27.00" lengthAdjust="spacingAndGlyphs">LHC</text>
<text x="607.70" y="112.60" font-family="Liberation Serif, serif" font-size="11.9" stroke="#000" stroke-width="0.12" textLength="23.30" lengthAdjust="spacingAndGlyphs">7+8</text>
<text x="636.60" y="112.60" font-family="Liberation Serif, serif" font-size="11.9" stroke="#000" stroke-width="0.12" textLength="21.90" lengthAdjust="spacingAndGlyphs">TeV</text>
<text x="574.90" y="127.80" font-family="Liberation Serif, serif" font-size="11.9" stroke="#000" stroke-width="0.12" textLength="27.00" lengthAdjust="spacingAndGlyphs">LHC</text>
<text x="607.70" y="127.80" font-family="Liberation Serif, serif" font-size="11.9" stroke="#000" stroke-width="0.12" textLength="12.30" lengthAdjust="spacingAndGlyphs">13</text>
<text x="625.50" y="127.80" font-family="Liberation Serif, serif" font-size="11.9" stroke="#000" stroke-width="0.12" textLength="24.20" lengthAdjust="spacingAndGlyphs">TeV</text>
<text x="67.50" y="205.80" font-family="Liberation Serif, serif" font-size="9.8" font-style="italic" stroke="#000" stroke-width="0.12" textLength="8.00" lengthAdjust="spacingAndGlyphs">χ</text>
<text x="76.00" y="199.80" font-family="Liberation Serif, serif" font-size="8.4" stroke="#000" stroke-width="0.12" textLength="4.90" lengthAdjust="spacingAndGlyphs">2</text>
<text x="73.90" y="209.20" font-family="Liberation Serif, serif" font-size="8.4" stroke="#000" stroke-width="0.12" textLength="17.70" lengthAdjust="spacingAndGlyphs">red</text>
<text x="98.20" y="205.60" font-family="Liberation Serif, serif" font-size="11.9" stroke="#000" stroke-width="0.12" textLength="26.20" lengthAdjust="spacingAndGlyphs">from</text>
<text x="130.30" y="205.60" font-family="Liberation Serif, serif" font-size="11.9" stroke="#000" stroke-width="0.12" textLength="67.00" lengthAdjust="spacingAndGlyphs">HiggsSignal</text>
<text x="203.20" y="205.60" font-family="Liberation Serif, serif" font-size="11.9" stroke="#000" stroke-width="0.12" textLength="9.70" lengthAdjust="spacingAndGlyphs">v.</text>
<text x="219.90" y="205.60" font-family="Liberation Serif, serif" font-size="11.9" stroke="#000" stroke-width="0.12" textLength="26.40" lengthAdjust="spacingAndGlyphs">2.2.1</text>
<rect x="459.4" y="281.1" width="144.1" height="81.9" rx="3" fill="#fff" fill-opacity="0.8" stroke="#c9c9c9" stroke-width="1.3"/>
<line x1="466.1" x2="503.7" y1="294.5" y2="294.5" stroke="#00f" stroke-width="1.75" stroke-dasharray="1.5 2.37"/>
<line x1="466.1" x2="503.7" y1="320.7" y2="320.7" stroke="#00f" stroke-width="1.75" stroke-dasharray="5.4 2.34"/>
<line x1="466.1" x2="503.7" y1="346.4" y2="346.4" stroke="#00f" stroke-width="1.75"/>
<text x="519.50" y="301.20" font-family="Liberation Serif, serif" font-size="18.4" textLength="75.50" lengthAdjust="spacingAndGlyphs">Tree-level</text>
<text x="519.50" y="327.10" font-family="Liberation Serif, serif" font-size="18.4" textLength="70.90" lengthAdjust="spacingAndGlyphs">One-loop</text>
<text x="519.50" y="353.00" font-family="Liberation Serif, serif" font-size="18.4" textLength="74.20" lengthAdjust="spacingAndGlyphs">Two-loop</text>
<rect x="100.50" y="306.4" width="17.6" height="22.8" rx="4" fill="#fff" fill-opacity="0.8" stroke="#7d7d7d" stroke-width="1.7"/>
<text x="109.30" y="322.8" font-family="Liberation Serif, serif" font-size="15" text-anchor="middle">1</text>
<rect x="186.90" y="306.4" width="17.6" height="22.8" rx="4" fill="#fff" fill-opacity="0.8" stroke="#7d7d7d" stroke-width="1.7"/>
<text x="195.70" y="322.8" font-family="Liberation Serif, serif" font-size="15" text-anchor="middle">2</text>
<rect x="284.80" y="306.4" width="17.6" height="22.8" rx="4" fill="#fff" fill-opacity="0.8" stroke="#7d7d7d" stroke-width="1.7"/>
<text x="293.60" y="322.8" font-family="Liberation Serif, serif" font-size="15" text-anchor="middle">3</text>
<rect x="616.80" y="306.4" width="17.6" height="22.8" rx="4" fill="#fff" fill-opacity="0.8" stroke="#7d7d7d" stroke-width="1.7"/>
<text x="625.60" y="322.8" font-family="Liberation Serif, serif" font-size="15" text-anchor="middle">4</text>
<text x="369.10" y="255.10" font-family="Liberation Serif, serif" font-size="14.3" font-style="italic" textLength="8.20" lengthAdjust="spacingAndGlyphs">h</text>
<text x="378.60" y="260.10" font-family="Liberation Serif, serif" font-size="12.2" textLength="5.80" lengthAdjust="spacingAndGlyphs">3</text>
<text x="378.40" y="246.70" font-family="Liberation Serif, serif" font-size="10.8" textLength="32.00" lengthAdjust="spacingAndGlyphs">(1=2)</text>
<text x="413.10" y="255.50" font-family="Liberation Serif, serif" font-size="17.5" textLength="5.20" lengthAdjust="spacingAndGlyphs">(</text>
<text x="418.20" y="255.10" font-family="Liberation Serif, serif" font-size="14.3" font-style="italic" textLength="8.60" lengthAdjust="spacingAndGlyphs">ν</text>
<use href="#wtilde" x="417.90" y="244.30"/>
<use href="#calR" transform="translate(428.40,249.00) scale(0.92,0.88)"/>
<text x="427.00" y="259.50" font-family="Liberation Serif, serif" font-size="11.2" font-style="italic" textLength="15.50" lengthAdjust="spacingAndGlyphs">μL</text>
<text x="445.60" y="255.50" font-family="Liberation Serif, serif" font-size="17.5" textLength="5.20" lengthAdjust="spacingAndGlyphs">)</text>
<text x="369.10" y="293.30" font-family="Liberation Serif, serif" font-size="14.3" font-style="italic" textLength="8.20" lengthAdjust="spacingAndGlyphs">h</text>
<text x="378.60" y="298.30" font-family="Liberation Serif, serif" font-size="12.2" textLength="5.80" lengthAdjust="spacingAndGlyphs">3</text>
<text x="378.40" y="284.90" font-family="Liberation Serif, serif" font-size="10.8" textLength="16.50" lengthAdjust="spacingAndGlyphs">(0)</text>
<text x="396.20" y="293.70" font-family="Liberation Serif, serif" font-size="17.5" textLength="5.20" lengthAdjust="spacingAndGlyphs">(</text>
<text x="401.30" y="293.30" font-family="Liberation Serif, serif" font-size="14.3" font-style="italic" textLength="8.60" lengthAdjust="spacingAndGlyphs">ν</text>
<use href="#wtilde" x="401.00" y="282.50"/>
<use href="#calR" transform="translate(411.50,287.20) scale(0.92,0.88)"/>
<text x="410.10" y="297.70" font-family="Liberation Serif, serif" font-size="11.2" font-style="italic" textLength="15.50" lengthAdjust="spacingAndGlyphs">μL</text>
<text x="428.70" y="293.70" font-family="Liberation Serif, serif" font-size="17.5" textLength="5.20" lengthAdjust="spacingAndGlyphs">)</text>
<text x="369.10" y="398.30" font-family="Liberation Serif, serif" font-size="14.3" font-style="italic" textLength="8.20" lengthAdjust="spacingAndGlyphs">h</text>
<text x="378.60" y="403.30" font-family="Liberation Serif, serif" font-size="12.2" textLength="5.80" lengthAdjust="spacingAndGlyphs">2</text>
<text x="378.40" y="389.90" font-family="Liberation Serif, serif" font-size="10.8" textLength="16.50" lengthAdjust="spacingAndGlyphs">(0)</text>
<text x="396.20" y="398.70" font-family="Liberation Serif, serif" font-size="17.5" textLength="5.20" lengthAdjust="spacingAndGlyphs">(</text>
<text x="401.30" y="398.30" font-family="Liberation Serif, serif" font-size="14.3" font-style="italic" textLength="8.60" lengthAdjust="spacingAndGlyphs">ν</text>
<use href="#wtilde" x="401.00" y="387.50"/>
<use href="#calR" transform="translate(411.50,392.20) scale(0.92,0.88)"/>
<text x="410.10" y="402.70" font-family="Liberation Serif, serif" font-size="11.2" font-style="italic" textLength="18.10" lengthAdjust="spacingAndGlyphs">μR</text>
<text x="428.70" y="398.70" font-family="Liberation Serif, serif" font-size="17.5" textLength="5.20" lengthAdjust="spacingAndGlyphs">)</text>
<text x="369.10" y="457.50" font-family="Liberation Serif, serif" font-size="14.3" font-style="italic" textLength="8.20" lengthAdjust="spacingAndGlyphs">h</text>
<text x="378.60" y="462.50" font-family="Liberation Serif, serif" font-size="12.2" textLength="5.80" lengthAdjust="spacingAndGlyphs">2</text>
<text x="378.40" y="449.10" font-family="Liberation Serif, serif" font-size="10.8" textLength="16.50" lengthAdjust="spacingAndGlyphs">(1)</text>
<text x="396.20" y="457.90" font-family="Liberation Serif, serif" font-size="17.5" textLength="5.20" lengthAdjust="spacingAndGlyphs">(</text>
<text x="401.50" y="457.50" font-family="Liberation Serif, serif" font-size="13.8" font-style="italic" textLength="11.90" lengthAdjust="spacingAndGlyphs">H</text>
<use href="#calR" transform="translate(416.50,451.40) scale(1.05,0.94)"/>
<text x="414.80" y="461.40" font-family="Liberation Serif, serif" font-size="11.2" font-style="italic" textLength="7.00" lengthAdjust="spacingAndGlyphs">u</text>
<text x="428.70" y="457.90" font-family="Liberation Serif, serif" font-size="17.5" textLength="5.20" lengthAdjust="spacingAndGlyphs">)</text>
<text x="369.10" y="500.50" font-family="Liberation Serif, serif" font-size="14.3" font-style="italic" textLength="8.20" lengthAdjust="spacingAndGlyphs">h</text>
<text x="378.60" y="505.50" font-family="Liberation Serif, serif" font-size="12.2" textLength="5.80" lengthAdjust="spacingAndGlyphs">2</text>
<text x="378.40" y="492.10" font-family="Liberation Serif, serif" font-size="10.8" textLength="16.50" lengthAdjust="spacingAndGlyphs">(2)</text>
<text x="396.20" y="500.90" font-family="Liberation Serif, serif" font-size="17.5" textLength="5.20" lengthAdjust="spacingAndGlyphs">(</text>
<text x="401.50" y="500.50" font-family="Liberation Serif, serif" font-size="13.8" font-style="italic" textLength="11.90" lengthAdjust="spacingAndGlyphs">H</text>
<use href="#calR" transform="translate(416.50,494.40) scale(1.05,0.94)"/>
<text x="414.80" y="504.40" font-family="Liberation Serif, serif" font-size="11.2" font-style="italic" textLength="7.00" lengthAdjust="spacingAndGlyphs">u</text>
<text x="428.70" y="500.90" font-family="Liberation Serif, serif" font-size="17.5" textLength="5.20" lengthAdjust="spacingAndGlyphs">)</text>
<text x="369.10" y="583.60" font-family="Liberation Serif, serif" font-size="14.3" font-style="italic" textLength="8.20" lengthAdjust="spacingAndGlyphs">h</text>
<text x="378.60" y="588.60" font-family="Liberation Serif, serif" font-size="12.2" textLength="5.80" lengthAdjust="spacingAndGlyphs">1</text>
<text x="378.40" y="575.20" font-family="Liberation Serif, serif" font-size="10.8" textLength="16.50" lengthAdjust="spacingAndGlyphs">(2)</text>
<text x="396.20" y="584.00" font-family="Liberation Serif, serif" font-size="17.5" textLength="5.20" lengthAdjust="spacingAndGlyphs">(</text>
<text x="401.30" y="583.60" font-family="Liberation Serif, serif" font-size="14.3" font-style="italic" textLength="8.60" lengthAdjust="spacingAndGlyphs">ν</text>
<use href="#wtilde" x="401.00" y="572.80"/>
<use href="#calR" transform="translate(411.50,577.50) scale(0.92,0.88)"/>
<text x="410.10" y="588.00" font-family="Liberation Serif, serif" font-size="11.2" font-style="italic" textLength="18.10" lengthAdjust="spacingAndGlyphs">μR</text>
<text x="428.70" y="584.00" font-family="Liberation Serif, serif" font-size="17.5" textLength="5.20" lengthAdjust="spacingAndGlyphs">)</text>
<text x="509.10" y="591.80" font-family="Liberation Serif, serif" font-size="14.3" font-style="italic" textLength="8.20" lengthAdjust="spacingAndGlyphs">h</text>
<text x="518.60" y="596.80" font-family="Liberation Serif, serif" font-size="12.2" textLength="5.80" lengthAdjust="spacingAndGlyphs">1</text>
<text x="518.40" y="583.40" font-family="Liberation Serif, serif" font-size="10.8" textLength="16.50" lengthAdjust="spacingAndGlyphs">(1)</text>
<text x="536.20" y="592.20" font-family="Liberation Serif, serif" font-size="17.5" textLength="5.20" lengthAdjust="spacingAndGlyphs">(</text>
<text x="541.30" y="591.80" font-family="Liberation Serif, serif" font-size="14.3" font-style="italic" textLength="8.60" lengthAdjust="spacingAndGlyphs">ν</text>
<use href="#wtilde" x="541.00" y="581.00"/>
<use href="#calR" transform="translate(551.50,585.70) scale(0.92,0.88)"/>
<text x="550.10" y="596.20" font-family="Liberation Serif, serif" font-size="11.2" font-style="italic" textLength="18.10" lengthAdjust="spacingAndGlyphs">μR</text>
<text x="568.70" y="592.20" font-family="Liberation Serif, serif" font-size="17.5" textLength="5.20" lengthAdjust="spacingAndGlyphs">)</text>
<text x="369.10" y="651.70" font-family="Liberation Serif, serif" font-size="14.3" font-style="italic" textLength="8.20" lengthAdjust="spacingAndGlyphs">h</text>
<text x="378.60" y="656.70" font-family="Liberation Serif, serif" font-size="12.2" textLength="5.80" lengthAdjust="spacingAndGlyphs">1</text>
<text x="378.40" y="643.30" font-family="Liberation Serif, serif" font-size="10.8" textLength="16.50" lengthAdjust="spacingAndGlyphs">(0)</text>
<text x="396.20" y="652.10" font-family="Liberation Serif, serif" font-size="17.5" textLength="5.20" lengthAdjust="spacingAndGlyphs">(</text>
<text x="401.50" y="651.70" font-family="Liberation Serif, serif" font-size="13.8" font-style="italic" textLength="11.90" lengthAdjust="spacingAndGlyphs">H</text>
<use href="#calR" transform="translate(416.50,645.60) scale(1.05,0.94)"/>
<text x="414.80" y="655.60" font-family="Liberation Serif, serif" font-size="11.2" font-style="italic" textLength="7.00" lengthAdjust="spacingAndGlyphs">u</text>
<text x="428.70" y="652.10" font-family="Liberation Serif, serif" font-size="17.5" textLength="5.20" lengthAdjust="spacingAndGlyphs">)</text>
</body></html>
